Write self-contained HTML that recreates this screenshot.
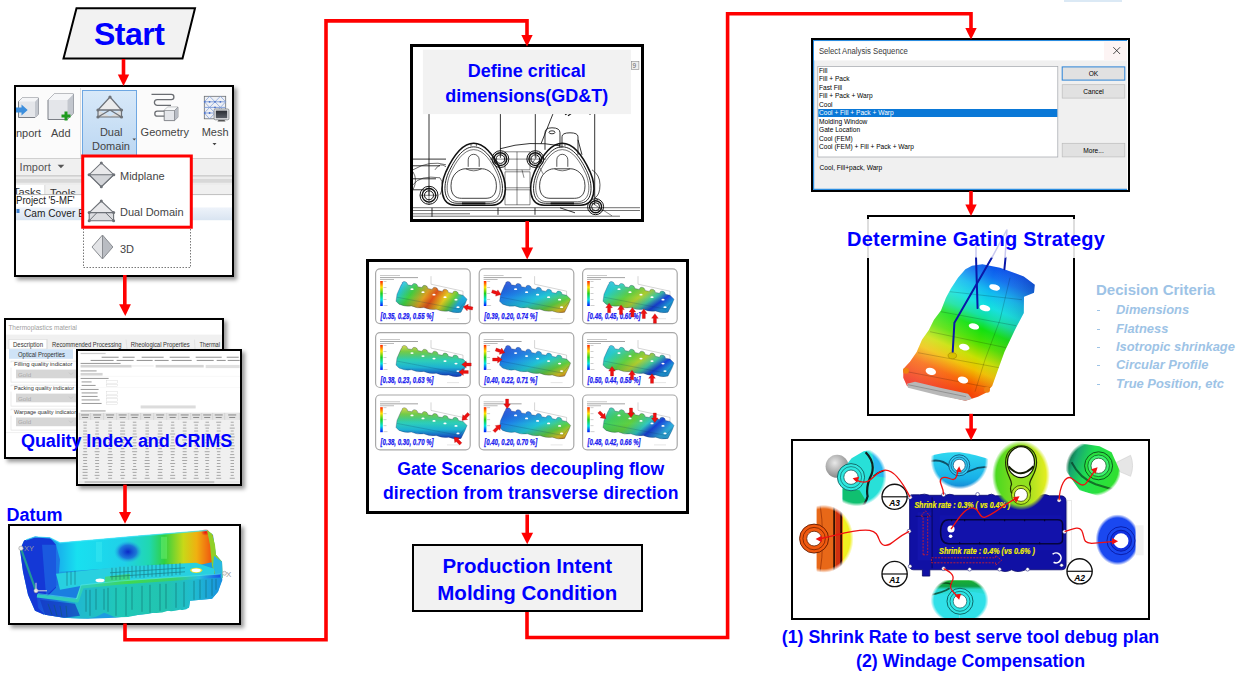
<!DOCTYPE html>
<html><head><meta charset="utf-8">
<style>
*{margin:0;padding:0;box-sizing:border-box}
html,body{width:1244px;height:682px;background:#fff;overflow:hidden;font-family:"Liberation Sans",sans-serif}
.a{position:absolute}
.box{position:absolute;border:2px solid #000;background:#fff}
.sh{box-shadow:3px 3px 4px rgba(0,0,0,.4)}
.bt{position:absolute;color:#0000ff;font-weight:bold;white-space:nowrap;line-height:1}
</style></head><body>

<div class="a" style="left:1064px;top:0;width:57.6px;height:1.5px;background:#dbe9f5"></div>
<!-- lines layer -->
<svg class="a" style="left:0;top:0" width="1244" height="682" viewBox="0 0 1244 682">
<!-- start parallelogram -->
<path d="M76.5 8.3 H195 L182.5 58.4 H63.5 Z" fill="#f2f2f2" stroke="#000" stroke-width="2"/>
</svg>

<div class="bt" style="left:94px;top:17.5px;font-size:32px;letter-spacing:-0.5px">Start</div>

<!-- BOX 1 ribbon -->
<div class="box sh" style="left:14px;top:85px;width:220px;height:192px;overflow:hidden">
<svg class="a" style="left:0;top:0" width="216" height="188" viewBox="16 87 216 188" font-family="Liberation Sans" font-size="11">
<rect x="16" y="87" width="216" height="71" fill="#fbfbfb"/>
<line x1="80.5" y1="88" x2="80.5" y2="158" stroke="#dcdcdc"/>
<!-- import cube -->
<path d="M18.5 101.5 L22 98 H38.5 V114 L35 117.5 H18.5 Z" fill="#e4e6ea" stroke="#7b7f86" stroke-width="1"/>
<path d="M35 101.5 L38.5 98 V114 L35 117.5 Z" fill="#c3c7ce"/>
<path d="M18.5 101.5 L22 98 H38.5 L35 101.5 Z" fill="#f4f5f7"/>
<path d="M16 107.5 H21.5 V104.6 L27.7 110 L21.5 115.5 V112.5 H16 Z" fill="#3d8fdd"/>
<!-- add cube -->
<path d="M48 100 L54 94 H73.5 V113 L67.5 119.5 H48 Z" fill="#e4e6ea" stroke="#7b7f86" stroke-width="1"/>
<path d="M67.5 100 L73.5 94 V113 L67.5 119.5 Z" fill="#c3c7ce"/>
<path d="M48 100 L54 94 H73.5 L67.5 100 Z" fill="#f5f6f8"/>
<path d="M64.5 111.5 H67.5 V114.5 H70.5 V117.5 H67.5 V120.5 H64.5 V117.5 H61.5 V114.5 H64.5 Z" fill="#1e9a1e"/>
<text x="16" y="137" fill="#444">nport</text>
<text x="51" y="137" fill="#444">Add</text>
<!-- dual domain button -->
<defs><linearGradient id="ddb" x1="0" y1="0" x2="0" y2="1"><stop offset="0" stop-color="#d8e9f9"/><stop offset="1" stop-color="#bcd7f2"/></linearGradient></defs><rect x="82.5" y="90.5" width="54" height="66" fill="url(#ddb)" stroke="#6ea7e2"/>
<path d="M110 97 L98 110 H121.5 Z" fill="#ececec" stroke="#6e7278" stroke-width="1.2"/>
<path d="M98 110 L110 116.5 L121.5 110 V117 H98 Z" fill="#ddd"/>
<path d="M98 110 H121.5 V117 H98 Z M98 117 L110 110 L121.5 117" fill="none" stroke="#6e7278" stroke-width="1.2"/>
<g fill="#6e7278"><circle cx="110" cy="97" r="1.6"/><circle cx="98" cy="110" r="1.6"/><circle cx="121.5" cy="110" r="1.6"/><circle cx="98" cy="117" r="1.6"/><circle cx="121.5" cy="117" r="1.6"/></g>
<text x="111.2" y="135.7" fill="#444" text-anchor="middle">Dual</text>
<text x="111" y="150.3" fill="#444" text-anchor="middle">Domain</text>
<path d="M132.5 138.5 H136 L134.25 140.5 Z" fill="#444"/>
<!-- geometry icon -->
<path d="M151.5 94.4 H171.3 A2.6 2.6 0 0 1 171.3 99.6 H157.3 A2.9 2.9 0 0 0 157.3 105.4 H171 M165 111.2 H157.3 A2.5 2.5 0 0 0 157.3 116.2 H165" fill="none" stroke="#6a6d72" stroke-width="1.3"/>
<path d="M164.2 110.5 L167.5 107.2 H177.9 V117.3 L174.5 120.6 H164.2 Z" fill="#e4e6ea" stroke="#6a6d72" stroke-width="0.8"/>
<path d="M174.5 110.5 L177.9 107.2 V117.3 L174.5 120.6 Z" fill="#b8bcc4"/>
<path d="M164.2 110.5 L167.5 107.2 H177.9 L174.5 110.5 Z" fill="#f6f7f8"/>
<path d="M164.2 110.5 H174.5 V120.6 M174.5 110.5 L177.9 107.2" fill="none" stroke="#6a6d72" stroke-width="0.6"/>
<text x="140.6" y="135.7" fill="#444">Geometry</text>
<!-- mesh icon -->
<rect x="204.3" y="96.3" width="21.4" height="22.5" fill="#eef0f4" stroke="#6a6d72" stroke-width="0.8"/>
<path d="M204.3 101.8 H225.7 M204.3 107.4 H225.7 M204.3 113 H225.7" stroke="#7a9ad8" stroke-width="0.9"/>
<path d="M204.3 101.8 L209.6 96.3 L215 101.8 L220.4 96.3 L225.7 101.8 L220.4 107.4 L215 101.8 L209.6 107.4 Z M209.6 107.4 L215 113 L220.4 107.4 M204.3 113 L209.6 107.4 M204.3 113 L209.6 118.8 L215 113 M225.7 113 L220.4 107.4" fill="none" stroke="#7a9ad8" stroke-width="0.7"/>
<g fill="#4a70c8"><circle cx="209.6" cy="101.8" r="0.9"/><circle cx="215" cy="101.8" r="0.9"/><circle cx="220.4" cy="101.8" r="0.9"/><circle cx="215" cy="107.4" r="0.9"/><circle cx="209.6" cy="113" r="0.9"/><circle cx="204.8" cy="101.8" r="0.9"/><circle cx="204.8" cy="113" r="0.9"/></g>
<rect x="214.1" y="109" width="14.8" height="10.8" rx="1.2" fill="#e8e9eb" stroke="#7a7d82" stroke-width="0.8"/>
<defs><linearGradient id="scr" x1="0" y1="0" x2="0" y2="1"><stop offset="0" stop-color="#2a2d33"/><stop offset="1" stop-color="#5a5e66"/></linearGradient></defs>
<rect x="215.8" y="110.6" width="11.4" height="7.6" fill="url(#scr)"/>
<path d="M218.5 120 H224.5 L225.5 121.6 H217.5 Z" fill="#555"/>
<text x="201.7" y="135.7" fill="#444">Mesh</text>
<path d="M212.5 143 H216.5 L214.5 145.3 Z" fill="#444"/>
<!-- import row -->
<rect x="16" y="158" width="216" height="16.5" fill="#f0f0f0"/>
<line x1="16" y1="158.5" x2="232" y2="158.5" stroke="#d0d0d0"/>
<text x="19.6" y="170.9" fill="#555">Import</text>
<path d="M57.6 164.8 H64.3 L60.95 168.3 Z" fill="#555"/>
<rect x="16" y="174.5" width="216" height="10.5" fill="#ececec"/>
<rect x="16" y="175" width="216" height="1.6" fill="#d0d0d0"/>
<rect x="16" y="179" width="216" height="3.7" fill="#d8d8d8"/>
<rect x="16" y="184.8" width="216" height="9.7" fill="#f0f0f0"/>
<rect x="16" y="184.8" width="28.8" height="9.7" fill="#fff"/>
<line x1="44.8" y1="185" x2="44.8" y2="194.5" stroke="#dadada"/>
<svg x="16" y="184.8" width="216" height="9.7" viewBox="16 184.8 216 9.7" overflow="hidden"><text x="13" y="195.6" fill="#333">Tasks</text><text x="50" y="196.5" fill="#333">Tools</text></svg>
<line x1="16" y1="194.8" x2="232" y2="194.8" stroke="#9a9a9a" stroke-width="0.8"/>
<rect x="16" y="195.2" width="216" height="80" fill="#fff"/>
<text x="16" y="204" fill="#222" textLength="58.6" lengthAdjust="spacingAndGlyphs">Project '5-MF'</text>
<defs><linearGradient id="cc" x1="0" y1="0" x2="0" y2="1"><stop offset="0" stop-color="#eef3fa"/><stop offset="1" stop-color="#d9e4f1"/></linearGradient></defs>
<rect x="16" y="207.4" width="216" height="12.8" fill="url(#cc)"/>
<rect x="16.5" y="209" width="3" height="4" fill="#3b7fd0"/>
<text x="24" y="216.6" fill="#222" textLength="61" lengthAdjust="spacingAndGlyphs">Cam Cover E</text>
<!-- dropdown -->
<rect x="83.5" y="156" width="107" height="111.5" fill="#fff" stroke="#555" stroke-width="0.8" stroke-dasharray="1.5,1.5"/>
<rect x="82.7" y="156" width="108.6" height="71.2" fill="none" stroke="#ff0000" stroke-width="3"/>
<!-- midplane icon -->
<path d="M101.3 162.9 L113.8 174.7 L101.3 186.7 L89.1 174.7 Z" fill="#e9e9eb" stroke="#6e7278" stroke-width="1.1"/>
<path d="M89.1 174.7 H113.8 L101.3 186.7 Z" fill="#d3d5d9" stroke="#6e7278" stroke-width="1.1"/>
<g fill="#6e7278"><circle cx="101.3" cy="162.9" r="1.5"/><circle cx="101.3" cy="186.7" r="1.5"/><circle cx="89.1" cy="174.7" r="1.5"/><circle cx="113.8" cy="174.7" r="1.5"/></g>
<text x="120" y="179.5" fill="#444">Midplane</text>
<!-- dual domain icon -->
<path d="M101.3 201 L89.2 212.6 H113.6 Z" fill="#e9e9eb" stroke="#6e7278" stroke-width="1.1"/>
<path d="M89.2 212.6 H113.6 V220.7 H89.2 Z" fill="#dcdde0" stroke="#6e7278" stroke-width="1.1"/>
<path d="M89.2 220.7 L97 212.6 M113.6 220.7 L105.5 212.6" stroke="#6e7278" stroke-width="1"/>
<g fill="#6e7278"><circle cx="101.3" cy="201" r="1.5"/><circle cx="89.2" cy="212.6" r="1.5"/><circle cx="113.6" cy="212.6" r="1.5"/><circle cx="89.2" cy="220.7" r="1.5"/><circle cx="113.6" cy="220.7" r="1.5"/></g>
<text x="120" y="216.2" fill="#444">Dual Domain</text>
<!-- 3d icon -->
<path d="M102.5 235 L92 247 L102.5 259 Z" fill="#e2e3e6" stroke="#8a8d92" stroke-width="1"/>
<path d="M102.5 235 L112.9 247 L102.5 259 Z" fill="#b9bcc2" stroke="#8a8d92" stroke-width="1"/>
<text x="120" y="252.9" fill="#444">3D</text>
</svg>
</div>

<!-- BOX 2 quality -->
<div class="box sh" style="left:4px;top:318.4px;width:220px;height:140.6px;overflow:hidden">
<svg class="a" style="left:0;top:0" width="216" height="137" viewBox="6 320.4 216 137" font-family="Liberation Sans" font-size="6">
<rect x="6" y="320" width="216" height="140" fill="#fff"/>
<text x="8.4" y="330.3" fill="#a0a0a0" font-size="7.6" textLength="68.6" lengthAdjust="spacingAndGlyphs">Thermoplastics material</text>
<rect x="6" y="335" width="216" height="14.5" fill="#f0f0f0"/>
<rect x="9" y="339.8" width="38" height="9.6" fill="#fff" stroke="#d8d8d8" stroke-width="0.6"/>
<text x="13" y="347" fill="#333" font-size="6.8" textLength="30" lengthAdjust="spacingAndGlyphs">Description</text>
<line x1="47" y1="340" x2="47" y2="349.4" stroke="#d8d8d8" stroke-width="0.6"/>
<text x="52" y="347" fill="#333" font-size="6.8" textLength="69.5" lengthAdjust="spacingAndGlyphs">Recommended Processing</text>
<line x1="126" y1="340" x2="127" y2="349.4" stroke="#d8d8d8" stroke-width="0.6"/>
<text x="130.8" y="347" fill="#333" font-size="6.8" textLength="59" lengthAdjust="spacingAndGlyphs">Rheological Properties</text>
<line x1="194.5" y1="340" x2="195" y2="349.4" stroke="#d8d8d8" stroke-width="0.6"/>
<text x="199.4" y="347" fill="#333" font-size="6.8" textLength="20.6" lengthAdjust="spacingAndGlyphs">Thermal</text>
<rect x="9" y="349.6" width="64" height="9.6" fill="#cfe3f7"/>
<text x="18" y="357" fill="#333" font-size="6.8" textLength="47" lengthAdjust="spacingAndGlyphs">Optical Properties</text>
<rect x="11" y="361.5" width="90" height="21" fill="none" stroke="#dcdcdc" stroke-width="0.6"/>
<rect x="11" y="385.5" width="90" height="21" fill="none" stroke="#dcdcdc" stroke-width="0.6"/>
<rect x="11" y="409.5" width="90" height="21" fill="none" stroke="#dcdcdc" stroke-width="0.6"/>
<rect x="8" y="363" width="70" height="5" fill="#fff"/>
<rect x="8" y="387" width="70" height="5" fill="#fff"/>
<rect x="8" y="411" width="70" height="5" fill="#fff"/>
<text x="14" y="366.6" fill="#333" font-size="6.2" textLength="58.5" lengthAdjust="spacingAndGlyphs">Filling quality indicator</text>
<text x="14" y="390.8" fill="#333" font-size="6.2" textLength="60" lengthAdjust="spacingAndGlyphs">Packing quality indicator</text>
<text x="14" y="414.3" fill="#333" font-size="6.2" textLength="62" lengthAdjust="spacingAndGlyphs">Warpage quality indicator</text>
<rect x="16" y="370" width="80" height="8.7" fill="#d6d6d6"/>
<rect x="16" y="394" width="80" height="8.7" fill="#d6d6d6"/>
<rect x="16" y="417.9" width="80" height="8.7" fill="#d6d6d6"/>
<text x="18" y="377" fill="#a8a8a8" font-size="6.2">Gold</text>
<text x="18" y="401" fill="#a8a8a8" font-size="6.2">Gold</text>
<text x="18" y="424.9" fill="#a8a8a8" font-size="6.2">Gold</text>
<path d="M69 373 L71 375 L73 373 M69 397 L71 399 L73 397 M69 421 L71 423 L73 421" stroke="#bbb" stroke-width="0.6" fill="none"/>
<line x1="6" y1="433" x2="222" y2="433" stroke="#e4e4e4" stroke-width="0.6"/>
</svg></div>
<div class="box sh" style="left:75.7px;top:348.6px;width:166.3px;height:137.4px;overflow:hidden">
<svg class="a" style="left:0;top:0" width="163" height="133" viewBox="77.7 350.6 162.3 132.9" font-family="Liberation Sans" font-size="3">
<rect x="77" y="350" width="165" height="136" fill="#fff"/>
<rect x="80" y="352.5" width="25" height="1.2" fill="#ccc"/>
<g fill="#999">
<rect x="101" y="356.3" width="17" height="1.1"/><rect x="122" y="356.3" width="12" height="1.1"/><rect x="141" y="356.3" width="22" height="1.1"/><rect x="169" y="356.3" width="20" height="1.1"/><rect x="195" y="356.3" width="26" height="1.1"/><rect x="226" y="356.3" width="12" height="1.1"/>
<rect x="90" y="359.5" width="23" height="1.1"/><rect x="116" y="359.5" width="17" height="1.1"/><rect x="136" y="359.5" width="16" height="1.1"/><rect x="154" y="359.5" width="14" height="1.1"/><rect x="171" y="359.5" width="20" height="1.1"/><rect x="196" y="359.5" width="17" height="1.1"/><rect x="216" y="359.5" width="9" height="1.1"/><rect x="227" y="359.5" width="12" height="1.1"/>
<rect x="80" y="362.5" width="40" height="1"/>
<rect x="80" y="370" width="16" height="1"/>
<rect x="80" y="377.5" width="28" height="1"/>
<rect x="81" y="381" width="10" height="1"/><rect x="81" y="384.5" width="14" height="1"/>
<rect x="80" y="388.5" width="18" height="1"/>
<rect x="81" y="392" width="16" height="1"/><rect x="81" y="395.5" width="16" height="1"/><rect x="81" y="399" width="18" height="1"/><rect x="81" y="402.5" width="20" height="1"/>
<rect x="80" y="410" width="25" height="1"/>
</g>
<rect x="80" y="364.5" width="51" height="2.6" fill="#d4d4d4"/>
<rect x="131" y="364.8" width="22" height="1.4" fill="#eee"/>
<rect x="155" y="364.5" width="48" height="2.6" fill="#d4d4d4"/>
<rect x="205" y="364.5" width="34" height="3.2" fill="#e0e0e0"/>
<rect x="80" y="372.5" width="22" height="2.6" fill="#d4d4d4"/>
<line x1="78" y1="376" x2="240" y2="376" stroke="#eee" stroke-width="0.4"/>
<line x1="78" y1="387" x2="240" y2="387" stroke="#eee" stroke-width="0.4"/>
<g fill="#fff" stroke="#c8c8c8" stroke-width="0.3">
<rect x="106" y="380.3" width="11" height="2.4"/><rect x="106" y="383.8" width="11" height="2.4"/>
<rect x="106" y="391.3" width="11" height="2.4"/><rect x="106" y="394.8" width="11" height="2.4"/><rect x="106" y="398.3" width="11" height="2.4"/><rect x="106" y="401.8" width="11" height="2.4"/>
</g>
<rect x="140" y="405" width="55" height="3" fill="#dcdcdc"/>
<rect x="78" y="412" width="162" height="68" fill="#f0f0f0"/>
<rect x="78" y="412.5" width="162" height="7" fill="#e4e4e4"/>
<line x1="79" y1="412.5" x2="79" y2="419.5" stroke="#c0c0c0" stroke-width="0.4"/>
<line x1="90" y1="412.5" x2="90" y2="419.5" stroke="#c0c0c0" stroke-width="0.4"/>
<line x1="103" y1="412.5" x2="103" y2="419.5" stroke="#c0c0c0" stroke-width="0.4"/>
<line x1="116" y1="412.5" x2="116" y2="419.5" stroke="#c0c0c0" stroke-width="0.4"/>
<line x1="128" y1="412.5" x2="128" y2="419.5" stroke="#c0c0c0" stroke-width="0.4"/>
<line x1="140" y1="412.5" x2="140" y2="419.5" stroke="#c0c0c0" stroke-width="0.4"/>
<line x1="153" y1="412.5" x2="153" y2="419.5" stroke="#c0c0c0" stroke-width="0.4"/>
<line x1="166" y1="412.5" x2="166" y2="419.5" stroke="#c0c0c0" stroke-width="0.4"/>
<line x1="178" y1="412.5" x2="178" y2="419.5" stroke="#c0c0c0" stroke-width="0.4"/>
<line x1="190" y1="412.5" x2="190" y2="419.5" stroke="#c0c0c0" stroke-width="0.4"/>
<line x1="201" y1="412.5" x2="201" y2="419.5" stroke="#c0c0c0" stroke-width="0.4"/>
<line x1="212" y1="412.5" x2="212" y2="419.5" stroke="#c0c0c0" stroke-width="0.4"/>
<line x1="224" y1="412.5" x2="224" y2="419.5" stroke="#c0c0c0" stroke-width="0.4"/>
<line x1="239" y1="412.5" x2="239" y2="419.5" stroke="#c0c0c0" stroke-width="0.4"/>
<rect x="82.5" y="421.3" width="4" height="0.9" fill="#a0a0a0"/>
<rect x="94.5" y="421.3" width="4" height="0.9" fill="#a0a0a0"/>
<rect x="108.0" y="421.3" width="3" height="0.9" fill="#a0a0a0"/>
<rect x="119.5" y="421.3" width="5" height="0.9" fill="#a0a0a0"/>
<rect x="132.2" y="421.3" width="3.5" height="0.9" fill="#a0a0a0"/>
<rect x="145.0" y="421.3" width="3" height="0.9" fill="#a0a0a0"/>
<rect x="157.8" y="421.3" width="3.5" height="0.9" fill="#a0a0a0"/>
<rect x="170.5" y="421.3" width="3" height="0.9" fill="#a0a0a0"/>
<rect x="182.0" y="421.3" width="4" height="0.9" fill="#a0a0a0"/>
<rect x="193.0" y="421.3" width="5" height="0.9" fill="#a0a0a0"/>
<rect x="204.8" y="421.3" width="3.5" height="0.9" fill="#a0a0a0"/>
<rect x="215.5" y="421.3" width="5" height="0.9" fill="#a0a0a0"/>
<rect x="230.0" y="421.3" width="3" height="0.9" fill="#a0a0a0"/>
<rect x="82.8" y="424.2" width="3.5" height="0.9" fill="#a0a0a0"/>
<rect x="95.0" y="424.2" width="3" height="0.9" fill="#a0a0a0"/>
<rect x="107.8" y="424.2" width="3.5" height="0.9" fill="#a0a0a0"/>
<rect x="119.5" y="424.2" width="5" height="0.9" fill="#a0a0a0"/>
<rect x="132.0" y="424.2" width="4" height="0.9" fill="#a0a0a0"/>
<rect x="144.8" y="424.2" width="3.5" height="0.9" fill="#a0a0a0"/>
<rect x="157.0" y="424.2" width="5" height="0.9" fill="#a0a0a0"/>
<rect x="170.2" y="424.2" width="3.5" height="0.9" fill="#a0a0a0"/>
<rect x="182.5" y="424.2" width="3" height="0.9" fill="#a0a0a0"/>
<rect x="193.8" y="424.2" width="3.5" height="0.9" fill="#a0a0a0"/>
<rect x="204.0" y="424.2" width="5" height="0.9" fill="#a0a0a0"/>
<rect x="216.2" y="424.2" width="3.5" height="0.9" fill="#a0a0a0"/>
<rect x="229.8" y="424.2" width="3.5" height="0.9" fill="#a0a0a0"/>
<rect x="83.0" y="427.2" width="3" height="0.9" fill="#a0a0a0"/>
<rect x="95.0" y="427.2" width="3" height="0.9" fill="#a0a0a0"/>
<rect x="107.8" y="427.2" width="3.5" height="0.9" fill="#a0a0a0"/>
<rect x="120.2" y="427.2" width="3.5" height="0.9" fill="#a0a0a0"/>
<rect x="132.2" y="427.2" width="3.5" height="0.9" fill="#a0a0a0"/>
<rect x="144.8" y="427.2" width="3.5" height="0.9" fill="#a0a0a0"/>
<rect x="157.5" y="427.2" width="4" height="0.9" fill="#a0a0a0"/>
<rect x="170.0" y="427.2" width="4" height="0.9" fill="#a0a0a0"/>
<rect x="182.2" y="427.2" width="3.5" height="0.9" fill="#a0a0a0"/>
<rect x="193.8" y="427.2" width="3.5" height="0.9" fill="#a0a0a0"/>
<rect x="204.8" y="427.2" width="3.5" height="0.9" fill="#a0a0a0"/>
<rect x="216.2" y="427.2" width="3.5" height="0.9" fill="#a0a0a0"/>
<rect x="229.0" y="427.2" width="5" height="0.9" fill="#a0a0a0"/>
<rect x="82.5" y="430.1" width="4" height="0.9" fill="#a0a0a0"/>
<rect x="95.0" y="430.1" width="3" height="0.9" fill="#a0a0a0"/>
<rect x="107.5" y="430.1" width="4" height="0.9" fill="#a0a0a0"/>
<rect x="119.5" y="430.1" width="5" height="0.9" fill="#a0a0a0"/>
<rect x="132.2" y="430.1" width="3.5" height="0.9" fill="#a0a0a0"/>
<rect x="144.8" y="430.1" width="3.5" height="0.9" fill="#a0a0a0"/>
<rect x="157.5" y="430.1" width="4" height="0.9" fill="#a0a0a0"/>
<rect x="170.5" y="430.1" width="3" height="0.9" fill="#a0a0a0"/>
<rect x="182.0" y="430.1" width="4" height="0.9" fill="#a0a0a0"/>
<rect x="193.5" y="430.1" width="4" height="0.9" fill="#a0a0a0"/>
<rect x="205.0" y="430.1" width="3" height="0.9" fill="#a0a0a0"/>
<rect x="216.0" y="430.1" width="4" height="0.9" fill="#a0a0a0"/>
<rect x="230.0" y="430.1" width="3" height="0.9" fill="#a0a0a0"/>
<rect x="82.5" y="433.1" width="4" height="0.9" fill="#a0a0a0"/>
<rect x="94.5" y="433.1" width="4" height="0.9" fill="#a0a0a0"/>
<rect x="107.5" y="433.1" width="4" height="0.9" fill="#a0a0a0"/>
<rect x="119.5" y="433.1" width="5" height="0.9" fill="#a0a0a0"/>
<rect x="132.0" y="433.1" width="4" height="0.9" fill="#a0a0a0"/>
<rect x="144.8" y="433.1" width="3.5" height="0.9" fill="#a0a0a0"/>
<rect x="157.0" y="433.1" width="5" height="0.9" fill="#a0a0a0"/>
<rect x="169.5" y="433.1" width="5" height="0.9" fill="#a0a0a0"/>
<rect x="182.2" y="433.1" width="3.5" height="0.9" fill="#a0a0a0"/>
<rect x="194.0" y="433.1" width="3" height="0.9" fill="#a0a0a0"/>
<rect x="204.5" y="433.1" width="4" height="0.9" fill="#a0a0a0"/>
<rect x="216.5" y="433.1" width="3" height="0.9" fill="#a0a0a0"/>
<rect x="229.5" y="433.1" width="4" height="0.9" fill="#a0a0a0"/>
<rect x="82.0" y="436.0" width="5" height="0.9" fill="#a0a0a0"/>
<rect x="95.0" y="436.0" width="3" height="0.9" fill="#a0a0a0"/>
<rect x="107.0" y="436.0" width="5" height="0.9" fill="#a0a0a0"/>
<rect x="120.0" y="436.0" width="4" height="0.9" fill="#a0a0a0"/>
<rect x="131.5" y="436.0" width="5" height="0.9" fill="#a0a0a0"/>
<rect x="145.0" y="436.0" width="3" height="0.9" fill="#a0a0a0"/>
<rect x="157.0" y="436.0" width="5" height="0.9" fill="#a0a0a0"/>
<rect x="170.5" y="436.0" width="3" height="0.9" fill="#a0a0a0"/>
<rect x="182.2" y="436.0" width="3.5" height="0.9" fill="#a0a0a0"/>
<rect x="193.8" y="436.0" width="3.5" height="0.9" fill="#a0a0a0"/>
<rect x="205.0" y="436.0" width="3" height="0.9" fill="#a0a0a0"/>
<rect x="216.2" y="436.0" width="3.5" height="0.9" fill="#a0a0a0"/>
<rect x="229.0" y="436.0" width="5" height="0.9" fill="#a0a0a0"/>
<rect x="82.5" y="439.0" width="4" height="0.9" fill="#a0a0a0"/>
<rect x="94.5" y="439.0" width="4" height="0.9" fill="#a0a0a0"/>
<rect x="107.5" y="439.0" width="4" height="0.9" fill="#a0a0a0"/>
<rect x="119.5" y="439.0" width="5" height="0.9" fill="#a0a0a0"/>
<rect x="132.5" y="439.0" width="3" height="0.9" fill="#a0a0a0"/>
<rect x="144.5" y="439.0" width="4" height="0.9" fill="#a0a0a0"/>
<rect x="157.5" y="439.0" width="4" height="0.9" fill="#a0a0a0"/>
<rect x="170.5" y="439.0" width="3" height="0.9" fill="#a0a0a0"/>
<rect x="181.5" y="439.0" width="5" height="0.9" fill="#a0a0a0"/>
<rect x="194.0" y="439.0" width="3" height="0.9" fill="#a0a0a0"/>
<rect x="204.8" y="439.0" width="3.5" height="0.9" fill="#a0a0a0"/>
<rect x="216.0" y="439.0" width="4" height="0.9" fill="#a0a0a0"/>
<rect x="229.5" y="439.0" width="4" height="0.9" fill="#a0a0a0"/>
<rect x="82.8" y="441.9" width="3.5" height="0.9" fill="#a0a0a0"/>
<rect x="94.5" y="441.9" width="4" height="0.9" fill="#a0a0a0"/>
<rect x="107.5" y="441.9" width="4" height="0.9" fill="#a0a0a0"/>
<rect x="120.5" y="441.9" width="3" height="0.9" fill="#a0a0a0"/>
<rect x="132.0" y="441.9" width="4" height="0.9" fill="#a0a0a0"/>
<rect x="144.5" y="441.9" width="4" height="0.9" fill="#a0a0a0"/>
<rect x="157.5" y="441.9" width="4" height="0.9" fill="#a0a0a0"/>
<rect x="170.2" y="441.9" width="3.5" height="0.9" fill="#a0a0a0"/>
<rect x="182.5" y="441.9" width="3" height="0.9" fill="#a0a0a0"/>
<rect x="193.8" y="441.9" width="3.5" height="0.9" fill="#a0a0a0"/>
<rect x="204.5" y="441.9" width="4" height="0.9" fill="#a0a0a0"/>
<rect x="215.5" y="441.9" width="5" height="0.9" fill="#a0a0a0"/>
<rect x="229.8" y="441.9" width="3.5" height="0.9" fill="#a0a0a0"/>
<rect x="83.0" y="444.9" width="3" height="0.9" fill="#a0a0a0"/>
<rect x="95.0" y="444.9" width="3" height="0.9" fill="#a0a0a0"/>
<rect x="107.0" y="444.9" width="5" height="0.9" fill="#a0a0a0"/>
<rect x="120.5" y="444.9" width="3" height="0.9" fill="#a0a0a0"/>
<rect x="132.2" y="444.9" width="3.5" height="0.9" fill="#a0a0a0"/>
<rect x="144.5" y="444.9" width="4" height="0.9" fill="#a0a0a0"/>
<rect x="157.5" y="444.9" width="4" height="0.9" fill="#a0a0a0"/>
<rect x="169.5" y="444.9" width="5" height="0.9" fill="#a0a0a0"/>
<rect x="181.5" y="444.9" width="5" height="0.9" fill="#a0a0a0"/>
<rect x="193.8" y="444.9" width="3.5" height="0.9" fill="#a0a0a0"/>
<rect x="205.0" y="444.9" width="3" height="0.9" fill="#a0a0a0"/>
<rect x="216.5" y="444.9" width="3" height="0.9" fill="#a0a0a0"/>
<rect x="229.0" y="444.9" width="5" height="0.9" fill="#a0a0a0"/>
<rect x="82.5" y="447.8" width="4" height="0.9" fill="#a0a0a0"/>
<rect x="94.8" y="447.8" width="3.5" height="0.9" fill="#a0a0a0"/>
<rect x="107.8" y="447.8" width="3.5" height="0.9" fill="#a0a0a0"/>
<rect x="120.2" y="447.8" width="3.5" height="0.9" fill="#a0a0a0"/>
<rect x="131.5" y="447.8" width="5" height="0.9" fill="#a0a0a0"/>
<rect x="145.0" y="447.8" width="3" height="0.9" fill="#a0a0a0"/>
<rect x="157.8" y="447.8" width="3.5" height="0.9" fill="#a0a0a0"/>
<rect x="169.5" y="447.8" width="5" height="0.9" fill="#a0a0a0"/>
<rect x="182.0" y="447.8" width="4" height="0.9" fill="#a0a0a0"/>
<rect x="193.8" y="447.8" width="3.5" height="0.9" fill="#a0a0a0"/>
<rect x="205.0" y="447.8" width="3" height="0.9" fill="#a0a0a0"/>
<rect x="215.5" y="447.8" width="5" height="0.9" fill="#a0a0a0"/>
<rect x="229.5" y="447.8" width="4" height="0.9" fill="#a0a0a0"/>
<rect x="82.8" y="450.8" width="3.5" height="0.9" fill="#a0a0a0"/>
<rect x="94.0" y="450.8" width="5" height="0.9" fill="#a0a0a0"/>
<rect x="107.8" y="450.8" width="3.5" height="0.9" fill="#a0a0a0"/>
<rect x="119.5" y="450.8" width="5" height="0.9" fill="#a0a0a0"/>
<rect x="131.5" y="450.8" width="5" height="0.9" fill="#a0a0a0"/>
<rect x="144.5" y="450.8" width="4" height="0.9" fill="#a0a0a0"/>
<rect x="157.0" y="450.8" width="5" height="0.9" fill="#a0a0a0"/>
<rect x="170.0" y="450.8" width="4" height="0.9" fill="#a0a0a0"/>
<rect x="182.0" y="450.8" width="4" height="0.9" fill="#a0a0a0"/>
<rect x="193.0" y="450.8" width="5" height="0.9" fill="#a0a0a0"/>
<rect x="204.0" y="450.8" width="5" height="0.9" fill="#a0a0a0"/>
<rect x="216.2" y="450.8" width="3.5" height="0.9" fill="#a0a0a0"/>
<rect x="230.0" y="450.8" width="3" height="0.9" fill="#a0a0a0"/>
<rect x="82.0" y="453.7" width="5" height="0.9" fill="#a0a0a0"/>
<rect x="94.8" y="453.7" width="3.5" height="0.9" fill="#a0a0a0"/>
<rect x="107.0" y="453.7" width="5" height="0.9" fill="#a0a0a0"/>
<rect x="120.0" y="453.7" width="4" height="0.9" fill="#a0a0a0"/>
<rect x="132.2" y="453.7" width="3.5" height="0.9" fill="#a0a0a0"/>
<rect x="145.0" y="453.7" width="3" height="0.9" fill="#a0a0a0"/>
<rect x="157.0" y="453.7" width="5" height="0.9" fill="#a0a0a0"/>
<rect x="170.0" y="453.7" width="4" height="0.9" fill="#a0a0a0"/>
<rect x="182.0" y="453.7" width="4" height="0.9" fill="#a0a0a0"/>
<rect x="194.0" y="453.7" width="3" height="0.9" fill="#a0a0a0"/>
<rect x="204.5" y="453.7" width="4" height="0.9" fill="#a0a0a0"/>
<rect x="216.5" y="453.7" width="3" height="0.9" fill="#a0a0a0"/>
<rect x="229.5" y="453.7" width="4" height="0.9" fill="#a0a0a0"/>
<rect x="82.5" y="456.7" width="4" height="0.9" fill="#a0a0a0"/>
<rect x="94.5" y="456.7" width="4" height="0.9" fill="#a0a0a0"/>
<rect x="107.0" y="456.7" width="5" height="0.9" fill="#a0a0a0"/>
<rect x="120.0" y="456.7" width="4" height="0.9" fill="#a0a0a0"/>
<rect x="132.0" y="456.7" width="4" height="0.9" fill="#a0a0a0"/>
<rect x="144.5" y="456.7" width="4" height="0.9" fill="#a0a0a0"/>
<rect x="157.8" y="456.7" width="3.5" height="0.9" fill="#a0a0a0"/>
<rect x="170.5" y="456.7" width="3" height="0.9" fill="#a0a0a0"/>
<rect x="181.5" y="456.7" width="5" height="0.9" fill="#a0a0a0"/>
<rect x="193.5" y="456.7" width="4" height="0.9" fill="#a0a0a0"/>
<rect x="204.5" y="456.7" width="4" height="0.9" fill="#a0a0a0"/>
<rect x="216.0" y="456.7" width="4" height="0.9" fill="#a0a0a0"/>
<rect x="229.0" y="456.7" width="5" height="0.9" fill="#a0a0a0"/>
<rect x="82.5" y="459.6" width="4" height="0.9" fill="#a0a0a0"/>
<rect x="94.5" y="459.6" width="4" height="0.9" fill="#a0a0a0"/>
<rect x="107.5" y="459.6" width="4" height="0.9" fill="#a0a0a0"/>
<rect x="120.0" y="459.6" width="4" height="0.9" fill="#a0a0a0"/>
<rect x="132.0" y="459.6" width="4" height="0.9" fill="#a0a0a0"/>
<rect x="144.0" y="459.6" width="5" height="0.9" fill="#a0a0a0"/>
<rect x="157.5" y="459.6" width="4" height="0.9" fill="#a0a0a0"/>
<rect x="170.2" y="459.6" width="3.5" height="0.9" fill="#a0a0a0"/>
<rect x="181.5" y="459.6" width="5" height="0.9" fill="#a0a0a0"/>
<rect x="193.5" y="459.6" width="4" height="0.9" fill="#a0a0a0"/>
<rect x="204.5" y="459.6" width="4" height="0.9" fill="#a0a0a0"/>
<rect x="216.2" y="459.6" width="3.5" height="0.9" fill="#a0a0a0"/>
<rect x="229.8" y="459.6" width="3.5" height="0.9" fill="#a0a0a0"/>
<rect x="82.8" y="462.6" width="3.5" height="0.9" fill="#a0a0a0"/>
<rect x="94.5" y="462.6" width="4" height="0.9" fill="#a0a0a0"/>
<rect x="107.0" y="462.6" width="5" height="0.9" fill="#a0a0a0"/>
<rect x="120.0" y="462.6" width="4" height="0.9" fill="#a0a0a0"/>
<rect x="132.5" y="462.6" width="3" height="0.9" fill="#a0a0a0"/>
<rect x="144.0" y="462.6" width="5" height="0.9" fill="#a0a0a0"/>
<rect x="157.8" y="462.6" width="3.5" height="0.9" fill="#a0a0a0"/>
<rect x="169.5" y="462.6" width="5" height="0.9" fill="#a0a0a0"/>
<rect x="182.0" y="462.6" width="4" height="0.9" fill="#a0a0a0"/>
<rect x="193.5" y="462.6" width="4" height="0.9" fill="#a0a0a0"/>
<rect x="205.0" y="462.6" width="3" height="0.9" fill="#a0a0a0"/>
<rect x="216.2" y="462.6" width="3.5" height="0.9" fill="#a0a0a0"/>
<rect x="229.8" y="462.6" width="3.5" height="0.9" fill="#a0a0a0"/>
<rect x="82.0" y="465.5" width="5" height="0.9" fill="#a0a0a0"/>
<rect x="94.8" y="465.5" width="3.5" height="0.9" fill="#a0a0a0"/>
<rect x="107.8" y="465.5" width="3.5" height="0.9" fill="#a0a0a0"/>
<rect x="120.2" y="465.5" width="3.5" height="0.9" fill="#a0a0a0"/>
<rect x="132.5" y="465.5" width="3" height="0.9" fill="#a0a0a0"/>
<rect x="144.0" y="465.5" width="5" height="0.9" fill="#a0a0a0"/>
<rect x="157.8" y="465.5" width="3.5" height="0.9" fill="#a0a0a0"/>
<rect x="170.2" y="465.5" width="3.5" height="0.9" fill="#a0a0a0"/>
<rect x="182.5" y="465.5" width="3" height="0.9" fill="#a0a0a0"/>
<rect x="193.8" y="465.5" width="3.5" height="0.9" fill="#a0a0a0"/>
<rect x="205.0" y="465.5" width="3" height="0.9" fill="#a0a0a0"/>
<rect x="216.0" y="465.5" width="4" height="0.9" fill="#a0a0a0"/>
<rect x="229.8" y="465.5" width="3.5" height="0.9" fill="#a0a0a0"/>
<rect x="82.0" y="468.5" width="5" height="0.9" fill="#a0a0a0"/>
<rect x="94.8" y="468.5" width="3.5" height="0.9" fill="#a0a0a0"/>
<rect x="108.0" y="468.5" width="3" height="0.9" fill="#a0a0a0"/>
<rect x="119.5" y="468.5" width="5" height="0.9" fill="#a0a0a0"/>
<rect x="131.5" y="468.5" width="5" height="0.9" fill="#a0a0a0"/>
<rect x="144.5" y="468.5" width="4" height="0.9" fill="#a0a0a0"/>
<rect x="157.0" y="468.5" width="5" height="0.9" fill="#a0a0a0"/>
<rect x="170.5" y="468.5" width="3" height="0.9" fill="#a0a0a0"/>
<rect x="182.2" y="468.5" width="3.5" height="0.9" fill="#a0a0a0"/>
<rect x="193.8" y="468.5" width="3.5" height="0.9" fill="#a0a0a0"/>
<rect x="204.5" y="468.5" width="4" height="0.9" fill="#a0a0a0"/>
<rect x="216.5" y="468.5" width="3" height="0.9" fill="#a0a0a0"/>
<rect x="229.5" y="468.5" width="4" height="0.9" fill="#a0a0a0"/>
<rect x="82.0" y="471.4" width="5" height="0.9" fill="#a0a0a0"/>
<rect x="94.5" y="471.4" width="4" height="0.9" fill="#a0a0a0"/>
<rect x="107.0" y="471.4" width="5" height="0.9" fill="#a0a0a0"/>
<rect x="120.5" y="471.4" width="3" height="0.9" fill="#a0a0a0"/>
<rect x="132.0" y="471.4" width="4" height="0.9" fill="#a0a0a0"/>
<rect x="145.0" y="471.4" width="3" height="0.9" fill="#a0a0a0"/>
<rect x="157.5" y="471.4" width="4" height="0.9" fill="#a0a0a0"/>
<rect x="170.5" y="471.4" width="3" height="0.9" fill="#a0a0a0"/>
<rect x="182.0" y="471.4" width="4" height="0.9" fill="#a0a0a0"/>
<rect x="193.5" y="471.4" width="4" height="0.9" fill="#a0a0a0"/>
<rect x="204.5" y="471.4" width="4" height="0.9" fill="#a0a0a0"/>
<rect x="216.0" y="471.4" width="4" height="0.9" fill="#a0a0a0"/>
<rect x="229.8" y="471.4" width="3.5" height="0.9" fill="#a0a0a0"/>
<rect x="82.0" y="474.4" width="5" height="0.9" fill="#a0a0a0"/>
<rect x="94.0" y="474.4" width="5" height="0.9" fill="#a0a0a0"/>
<rect x="107.5" y="474.4" width="4" height="0.9" fill="#a0a0a0"/>
<rect x="119.5" y="474.4" width="5" height="0.9" fill="#a0a0a0"/>
<rect x="132.2" y="474.4" width="3.5" height="0.9" fill="#a0a0a0"/>
<rect x="144.8" y="474.4" width="3.5" height="0.9" fill="#a0a0a0"/>
<rect x="157.0" y="474.4" width="5" height="0.9" fill="#a0a0a0"/>
<rect x="169.5" y="474.4" width="5" height="0.9" fill="#a0a0a0"/>
<rect x="182.2" y="474.4" width="3.5" height="0.9" fill="#a0a0a0"/>
<rect x="193.8" y="474.4" width="3.5" height="0.9" fill="#a0a0a0"/>
<rect x="205.0" y="474.4" width="3" height="0.9" fill="#a0a0a0"/>
<rect x="216.0" y="474.4" width="4" height="0.9" fill="#a0a0a0"/>
<rect x="230.0" y="474.4" width="3" height="0.9" fill="#a0a0a0"/>
<rect x="82.0" y="477.3" width="5" height="0.9" fill="#a0a0a0"/>
<rect x="95.0" y="477.3" width="3" height="0.9" fill="#a0a0a0"/>
<rect x="107.5" y="477.3" width="4" height="0.9" fill="#a0a0a0"/>
<rect x="120.2" y="477.3" width="3.5" height="0.9" fill="#a0a0a0"/>
<rect x="132.0" y="477.3" width="4" height="0.9" fill="#a0a0a0"/>
<rect x="144.0" y="477.3" width="5" height="0.9" fill="#a0a0a0"/>
<rect x="157.0" y="477.3" width="5" height="0.9" fill="#a0a0a0"/>
<rect x="169.5" y="477.3" width="5" height="0.9" fill="#a0a0a0"/>
<rect x="182.2" y="477.3" width="3.5" height="0.9" fill="#a0a0a0"/>
<rect x="193.0" y="477.3" width="5" height="0.9" fill="#a0a0a0"/>
<rect x="204.5" y="477.3" width="4" height="0.9" fill="#a0a0a0"/>
<rect x="215.5" y="477.3" width="5" height="0.9" fill="#a0a0a0"/>
<rect x="229.0" y="477.3" width="5" height="0.9" fill="#a0a0a0"/>
<rect x="80.5" y="414" width="8" height="1" fill="#888"/><rect x="81.5" y="416.5" width="6" height="1" fill="#888"/>
<rect x="92.5" y="414" width="8" height="1" fill="#888"/><rect x="93.5" y="416.5" width="6" height="1" fill="#888"/>
<rect x="105.5" y="414" width="8" height="1" fill="#888"/><rect x="106.5" y="416.5" width="6" height="1" fill="#888"/>
<rect x="118.0" y="414" width="8" height="1" fill="#888"/><rect x="119.0" y="416.5" width="6" height="1" fill="#888"/>
<rect x="130.0" y="414" width="8" height="1" fill="#888"/><rect x="131.0" y="416.5" width="6" height="1" fill="#888"/>
<rect x="142.5" y="414" width="8" height="1" fill="#888"/><rect x="143.5" y="416.5" width="6" height="1" fill="#888"/>
<rect x="155.5" y="414" width="8" height="1" fill="#888"/><rect x="156.5" y="416.5" width="6" height="1" fill="#888"/>
<rect x="168.0" y="414" width="8" height="1" fill="#888"/><rect x="169.0" y="416.5" width="6" height="1" fill="#888"/>
<rect x="180.0" y="414" width="8" height="1" fill="#888"/><rect x="181.0" y="416.5" width="6" height="1" fill="#888"/>
<rect x="191.5" y="414" width="8" height="1" fill="#888"/><rect x="192.5" y="416.5" width="6" height="1" fill="#888"/>
<rect x="202.5" y="414" width="8" height="1" fill="#888"/><rect x="203.5" y="416.5" width="6" height="1" fill="#888"/>
<rect x="214.0" y="414" width="8" height="1" fill="#888"/><rect x="215.0" y="416.5" width="6" height="1" fill="#888"/>
<rect x="227.5" y="414" width="8" height="1" fill="#888"/><rect x="228.5" y="416.5" width="6" height="1" fill="#888"/>
<rect x="78" y="480" width="162" height="3.2" fill="#e8e8e8"/><rect x="84" y="480.6" width="129.6" height="2" fill="#c4c4c4"/>
</svg></div>
<div class="bt" style="left:21px;top:432px;font-size:18px;letter-spacing:-0.08px">Quality Index and CRIMS</div>

<!-- Datum -->
<div class="bt" style="left:6.5px;top:506px;font-size:18px">Datum</div>
<div class="box sh" style="left:8px;top:524.4px;width:233px;height:100.6px;overflow:hidden">
<svg class="a" style="left:0;top:0" width="229" height="97" viewBox="10 526.4 229 96.6">
<defs>
<linearGradient id="dgw" gradientUnits="userSpaceOnUse" x1="20" y1="0" x2="210" y2="0">
<stop offset="0" stop-color="#1436d8"/><stop offset="0.12" stop-color="#1a5ae4"/><stop offset="0.2" stop-color="#18b0ec"/><stop offset="0.3" stop-color="#18e0f0"/><stop offset="0.55" stop-color="#20d0e8"/><stop offset="0.68" stop-color="#20d8b0"/><stop offset="0.76" stop-color="#30d040"/><stop offset="0.86" stop-color="#c8d818"/><stop offset="0.93" stop-color="#f0b010"/><stop offset="1" stop-color="#f06010"/>
</linearGradient>
<linearGradient id="dgf" gradientUnits="userSpaceOnUse" x1="35" y1="0" x2="222" y2="0">
<stop offset="0" stop-color="#1848d8"/><stop offset="0.12" stop-color="#1a70e0"/><stop offset="0.22" stop-color="#20b8d0"/><stop offset="0.45" stop-color="#20c8b8"/><stop offset="0.7" stop-color="#22c4b0"/><stop offset="0.85" stop-color="#20bcd0"/><stop offset="1" stop-color="#1890e0"/>
</linearGradient>
<linearGradient id="dgr" gradientUnits="userSpaceOnUse" x1="37" y1="0" x2="221" y2="0">
<stop offset="0" stop-color="#30c8c8"/><stop offset="0.3" stop-color="#30d0b0"/><stop offset="0.5" stop-color="#40d850"/><stop offset="0.75" stop-color="#38d070"/><stop offset="0.88" stop-color="#28c0e0"/><stop offset="1" stop-color="#1850e8"/>
</linearGradient>
<radialGradient id="dg3" cx="0.5" cy="0.5" r="0.5"><stop offset="0" stop-color="#0a28c8"/><stop offset="0.6" stop-color="#1a50d8" stop-opacity="0.7"/><stop offset="1" stop-color="#20a0e0" stop-opacity="0"/></radialGradient>
<radialGradient id="dg4" cx="0.5" cy="0.5" r="0.5"><stop offset="0" stop-color="#e81010"/><stop offset="1" stop-color="#e81010" stop-opacity="0"/></radialGradient>
</defs>
<path d="M20 550 L24 541 L35 537 L50 538 L60 543 L95 540 L140 536 L190 532 L207 530.5 L213 535 L216 555 L222 562 L222.5 578 L218 592 L212 599 L190 601 L189 608 L140 615 L115 618 L88 619 L64 618 L45 615 L35 611 L28 595 L23 572 Z" fill="#1c9ce0"/>
<path d="M50 575 L82 572 L82 590 L77 600 L40 596 Z" fill="#1a7ee0"/>
<!-- back wall -->
<path d="M24 541 L35 537 L50 538 L60 543 L95 540 L140 536 L190 532 L207 530.5 L213 536 L214 562 L196 566 L120 568 L60 572 L50 580 L40 590 Z" fill="url(#dgw)"/>
<ellipse cx="128" cy="552" rx="14" ry="11" fill="url(#dg3)"/>
<ellipse cx="205.5" cy="532.5" rx="4.5" ry="3.5" fill="url(#dg4)"/>
<rect x="96" y="542" width="6" height="20" fill="#38e8f0" opacity="0.55"/>
<rect x="161" y="537" width="6" height="22" fill="#70f070" opacity="0.5"/>
<!-- right end wall -->
<path d="M207 530.5 L212 534 L215 545 L216 555 L222 562 L222.5 578 L216 578 L212 566 L210 545 Z" fill="#90d028"/>
<path d="M214 556 L222 562 L222.5 578 L216 578 L213 566 Z" fill="#28b8e0"/>
<!-- left end -->
<path d="M20 550 L24 541 L35 537 L50 538 L56 545 L56 588 L46 598 L44 615 L35 611 L28 595 L23 572 Z" fill="#1438d6"/>
<path d="M42 545 L56 545 L60 560 L58 585 L46 596 Z" fill="#1c64e2" opacity="0.75"/>
<!-- floor -->
<path d="M56 574 L120 567 L196 563 L214 569 L214 576 L120 583 L82 586 L60 590 Z" fill="#28d0e0"/>
<path d="M105 577 L130 574 L130 583 L105 585 Z" fill="#40d870" opacity="0.8"/>
<g stroke="#0b4850" stroke-width="0.7" opacity="0.6">
<path d="M67 572 V586 M71 572 V585 M75 571 V585 M112 568 V580 M116 568 V580 M120 567 V580 M124 567 V579 M128 567 V579 M132 566 V578 M136 566 V578 M140 566 V578 M144 566 V578 M148 565 V577 M152 565 V577 M156 565 V577 M160 564 V577 M164 564 V576 M168 564 V576 M172 564 V576 M176 564 V575 M180 563 V575"/>
<path d="M110 573 L185 568 M110 577 L185 572"/>
</g>
<ellipse cx="100" cy="580.6" rx="4.5" ry="1.8" fill="#fff"/>
<ellipse cx="196.2" cy="570.5" rx="6" ry="2.6" fill="#e8e030"/>
<ellipse cx="196.2" cy="570.5" rx="4.6" ry="1.9" fill="#fff"/>
<!-- front wall -->
<path d="M37 597 L77 602 L82 588 L120 584 L220.6 577 L222.5 580 L218 592 L212 599 L190 601 L189 607.8 Q186 611 180 610 Q172 612 168 611 Q160 614 153 613 Q146 615 140 614.6 Q128 618 115 617.5 Q108 614 104 613 Q96 618 88 618.5 Q76 619 64 618 L45 615 L38 608 Z" fill="url(#dgf)"/>
<path d="M40 600 L75 604 L80 616 L64 618 L45 615 Z" fill="#1438c0" opacity="0.7"/>
<g stroke="#0e5a60" stroke-width="0.9" opacity="0.55">
<path d="M48 604 L52 615 M54 605 L57 616 M60 606 L62 617 M66 606 L67 617 M86 590 V612 M90 590 V616 M96 589 V610 M104 589 V610 M108 588 V612 M116 588 V616 M126 587 V616 M132 587 V610 M142 586 V612 M150 585 V613 M160 584 V611 M166 584 V609 M176 583 V608 M184 582 V607 M194 581 V600 M200 580 V599 M206 580 V598 M212 579 V596 M216 579 V590"/>
</g>
<!-- front rim -->
<path d="M37 596 L77 601 L82 587 L120 583 L220.6 576" stroke="url(#dgr)" stroke-width="3.6" fill="none" stroke-linejoin="round"/>
<path d="M38 593.8 L77 598.8 L81 585.3 L120 581.2 L220 574.3" stroke="#60f0f0" stroke-width="0.7" fill="none" opacity="0.7"/>
<!-- rim top edge highlight -->
<path d="M26 540 L35 537 L50 538 L60 543 L95 540 L140 536 L190 532 L207 530.5" stroke="#40e8f8" stroke-width="1.3" fill="none" opacity="0.7"/>
<!-- axis -->
<path d="M21 549 L36 591" stroke="#209898" stroke-width="2.2"/>
<circle cx="21" cy="548.5" r="2.2" fill="#eee" stroke="#888" stroke-width="0.5"/>
<text x="24" y="551" font-family="Liberation Sans" font-size="7.5" fill="#9a9a9a">XY</text>
<circle cx="36" cy="591" r="2.1" fill="#eee" stroke="#888" stroke-width="0.5"/>
<path d="M36 591 H47 M36 591 V583" stroke="#ddd" stroke-width="1"/>
<circle cx="224.5" cy="573.5" r="2" fill="#eee" stroke="#888" stroke-width="0.5"/>
<text x="226" y="577" font-family="Liberation Sans" font-size="8" fill="#9a9a9a">X</text>
</svg></div>

<!-- Define -->
<div class="box" style="left:410px;top:44.2px;width:233.5px;height:178.3px;border-width:3px;overflow:hidden">
<svg class="a" style="left:0;top:0" width="227.5" height="172.3" viewBox="413 47.2 227.5 172.3" fill="none" stroke="#111" stroke-width="0.85">
<rect x="413" y="47" width="228" height="172" fill="#fff" stroke="none"/>
<!-- extension lines -->
<path d="M429 114 V196 M500.4 114 V158 M535.3 114 V158 M594.7 114 V205"/>
<path d="M553 114 L541 144" />
<path d="M565 115 l2 -1 M568 116 l3 -2 M590 115 v-1" stroke-width="1.2"/>
<!-- horizontal lines -->
<path d="M413 159.3 H446 M413 166 H440 M413 179 H436 M413 190 H424"/>
<path d="M413 207.9 H640 M413 210.7 H640 M413 216.4 H620 M413 214 H470" stroke-width="0.6"/>
<path d="M432 208 V217 M498 208 V215 M535 208 V215 M560 208 L575 213"/>
<!-- top boss -->
<path d="M545 150 V133 Q545 128 552 128 Q560 128 560 133 V148"/>
<ellipse cx="552" cy="132.5" rx="3" ry="1.5"/>
<path d="M562 148 V137 Q562 133 570 133 Q578 133 578 137 V155 M578 140 L582 155"/>
<path d="M500 149 Q530 140 560 146"/>
<!-- grid between -->
<path d="M505 152 H530 V170 H505 Z M505 172 H530 V188 H505 Z M505 190 H530 V205 H505 Z M517 152 V205" stroke-width="0.5"/>
<path d="M540 168 l3 6 M522 170 l2 8" stroke-width="0.5"/>
<!-- left partial shapes -->
<path d="M413 170 Q430 160 446 165 M413 185 Q420 175 440 178 Q445 185 440 195" stroke-width="0.6"/>
<path d="M413 172 Q418 180 413 190" stroke-width="0.6"/>
<!-- left teardrop -->
<g>
<path d="M473.7 143.5 C 486 143.5 495 158 501.5 172 C 508 187 507 205.5 492 205.5 H 455.4 C 440.4 205.5 439.4 187 445.9 172 C 452.4 158 461.4 143.5 473.7 143.5 Z" stroke-width="1.6"/>
<path d="M473.7 143.5 C 486 143.5 495 158 501.5 172 C 508 187 507 205.5 492 205.5 H 455.4 C 440.4 205.5 439.4 187 445.9 172 C 452.4 158 461.4 143.5 473.7 143.5 Z" stroke-width="1.0" transform="translate(473.7 183) scale(0.91) translate(-473.7 -183)"/>
<path d="M473.7 143.5 C 486 143.5 495 158 501.5 172 C 508 187 507 205.5 492 205.5 H 455.4 C 440.4 205.5 439.4 187 445.9 172 C 452.4 158 461.4 143.5 473.7 143.5 Z" stroke-width="0.7" transform="translate(473.7 183) scale(0.84) translate(-473.7 -183)"/>
<path d="M 451 186 C 451 174 460 169 465 169 L 482.4 169 C 487.4 169 496.4 174 496.4 186 C 496.4 196 491 198.5 486 198.5 H 461.4 C 456.4 198.5 451 196 451 186 Z" stroke-width="0.8"/>
<path d="M468.2 167 V160 A5.5 5.5 0 0 1 479.2 160 V167" stroke-width="0.7"/>
<path d="M466 169 Q473.7 173 481.4 169" stroke-width="0.6"/>
<path d="M462 203.6 H485.4" stroke-width="2"/>
<path d="M471 144 V146.5 M476.4 144 V146.5" stroke-width="0.6"/>
</g>
<!-- right teardrop -->
<g transform="translate(88.6 0)">
<path d="M473.7 143.5 C 486 143.5 495 158 501.5 172 C 508 187 507 205.5 492 205.5 H 455.4 C 440.4 205.5 439.4 187 445.9 172 C 452.4 158 461.4 143.5 473.7 143.5 Z" stroke-width="1.6"/>
<path d="M473.7 143.5 C 486 143.5 495 158 501.5 172 C 508 187 507 205.5 492 205.5 H 455.4 C 440.4 205.5 439.4 187 445.9 172 C 452.4 158 461.4 143.5 473.7 143.5 Z" stroke-width="1.0" transform="translate(473.7 183) scale(0.91) translate(-473.7 -183)"/>
<path d="M473.7 143.5 C 486 143.5 495 158 501.5 172 C 508 187 507 205.5 492 205.5 H 455.4 C 440.4 205.5 439.4 187 445.9 172 C 452.4 158 461.4 143.5 473.7 143.5 Z" stroke-width="0.7" transform="translate(473.7 183) scale(0.84) translate(-473.7 -183)"/>
<path d="M 451 186 C 451 174 460 169 465 169 L 482.4 169 C 487.4 169 496.4 174 496.4 186 C 496.4 196 491 198.5 486 198.5 H 461.4 C 456.4 198.5 451 196 451 186 Z" stroke-width="0.8"/>
<path d="M468.2 167 V160 A5.5 5.5 0 0 1 479.2 160 V167" stroke-width="0.7"/>
<path d="M466 169 Q473.7 173 481.4 169" stroke-width="0.6"/>
<path d="M462 203.6 H485.4" stroke-width="2"/>
<path d="M471 144 V146.5 M476.4 144 V146.5" stroke-width="0.6"/>
</g>
<path d="M592 170 Q600 175 600 185 Q600 195 595 198 L 598 200" stroke-width="0.7"/>
<path d="M446 167 Q440 162 435 170" stroke-width="0.6"/>
<!-- bolt circles -->
<g stroke-width="1">
<circle cx="500.4" cy="159.3" r="8.4"/><circle cx="500.4" cy="159.3" r="6.4" stroke-width="1.4"/><circle cx="500.4" cy="159.3" r="4.3"/>
<circle cx="535.3" cy="159.3" r="8.4"/><circle cx="535.3" cy="159.3" r="6.4" stroke-width="1.4"/><circle cx="535.3" cy="159.3" r="4.3"/>
<circle cx="429" cy="195.5" r="9"/><circle cx="429" cy="195.5" r="6.8" stroke-width="1.4"/><circle cx="429" cy="195.5" r="4.5"/>
<circle cx="595.6" cy="206.9" r="8"/><circle cx="595.6" cy="206.9" r="6" stroke-width="1.4"/><circle cx="595.6" cy="206.9" r="4"/>
</g>
<path d="M490 159.3 H546 M429 186 V205 M420 195.5 H438 M590 202 L612 216 M532 164 L540 152" stroke-width="0.5"/>
<!-- label -->
<rect x="422.9" y="49.9" width="208" height="64.4" fill="#f2f2f2" stroke="none"/>
<rect x="631.3" y="61.9" width="7.6" height="7.6" fill="#eee" stroke="#888" stroke-width="0.6"/>
<text x="632.5" y="68.3" font-family="Liberation Sans" font-size="6.5" fill="#666" stroke="none">9</text>
</svg>
<div class="bt" style="left:0;width:227.5px;text-align:center;top:11.5px;font-size:18px;line-height:25px">Define critical<br>dimensions(GD&amp;T)</div>
</div>

<!-- Gate -->
<div class="box" style="left:366px;top:259px;width:323px;height:255px;border-width:3px;overflow:hidden">
<svg class="a" style="left:0;top:0" width="317" height="248" viewBox="369 262 317 248">
<defs><linearGradient id="tgA" x1="0" y1="0" x2="1" y2="0.3"><stop offset="0" stop-color="#1a5ae0"/><stop offset="0.12" stop-color="#22c8e0"/><stop offset="0.3" stop-color="#40d040"/><stop offset="0.5" stop-color="#e0a020"/><stop offset="0.62" stop-color="#e05018"/><stop offset="0.78" stop-color="#e8d020"/><stop offset="0.9" stop-color="#60d040"/><stop offset="1" stop-color="#20b0e0"/></linearGradient><linearGradient id="tgB" x1="0" y1="0" x2="1" y2="1"><stop offset="0" stop-color="#1838d8"/><stop offset="0.3" stop-color="#1e80e8"/><stop offset="0.55" stop-color="#22c8d8"/><stop offset="0.75" stop-color="#60d040"/><stop offset="0.88" stop-color="#e8d020"/><stop offset="1" stop-color="#f07010"/></linearGradient><linearGradient id="tgC" x1="0" y1="0" x2="1" y2="0.6"><stop offset="0" stop-color="#20b0e0"/><stop offset="0.2" stop-color="#22d0d0"/><stop offset="0.45" stop-color="#60d040"/><stop offset="0.6" stop-color="#b0d030"/><stop offset="0.75" stop-color="#40c8a0"/><stop offset="0.88" stop-color="#1840d8"/><stop offset="1" stop-color="#20a0e0"/></linearGradient><linearGradient id="tgD" x1="0" y1="1" x2="0" y2="0"><stop offset="0" stop-color="#1840d8"/><stop offset="0.3" stop-color="#20c0e0"/><stop offset="0.55" stop-color="#30d0b0"/><stop offset="0.8" stop-color="#70d040"/><stop offset="1" stop-color="#d0d030"/></linearGradient><linearGradient id="tgE" x1="0" y1="0" x2="1" y2="0.5"><stop offset="0" stop-color="#22c0d0"/><stop offset="0.25" stop-color="#40d060"/><stop offset="0.5" stop-color="#60d040"/><stop offset="0.7" stop-color="#30c8c0"/><stop offset="0.82" stop-color="#1840d8"/><stop offset="1" stop-color="#30b0e0"/></linearGradient><linearGradient id="leg" x1="0" y1="0" x2="0" y2="1"><stop offset="0" stop-color="#ff2000"/><stop offset="0.25" stop-color="#ffe000"/><stop offset="0.5" stop-color="#20d020"/><stop offset="0.75" stop-color="#00e0e0"/><stop offset="1" stop-color="#0010ff"/></linearGradient><linearGradient id="shade" x1="0" y1="0" x2="0" y2="1"><stop offset="0" stop-color="#fff" stop-opacity="0.15"/><stop offset="0.5" stop-color="#000" stop-opacity="0"/><stop offset="1" stop-color="#003" stop-opacity="0.18"/></linearGradient></defs>
<rect x="375.6" y="268.8" width="94.6" height="54.8" rx="4.5" fill="#fff" stroke="#a8a8a8" stroke-width="1.2"/>
<rect x="380.0" y="275.2" width="20" height="0.8" fill="#bbb"/><rect x="380.0" y="277.2" width="38" height="0.9" fill="#999"/><rect x="380.0" y="279.2" width="14" height="0.8" fill="#aaa"/>
<rect x="380.2" y="281.0" width="2.6" height="25" fill="url(#leg)"/>
<g fill="#bbb"><rect x="383.5" y="281.2" width="3" height="0.7"/><rect x="383.5" y="287.2" width="3" height="0.7"/><rect x="383.5" y="293.2" width="3" height="0.7"/><rect x="383.5" y="299.2" width="3" height="0.7"/><rect x="383.5" y="305.2" width="4" height="0.7"/></g>
<path d="M431.0 276.2 V284.2 L463.0 291.2 V298.2" stroke="#aaa" stroke-width="0.5" fill="none"/>
<path d="M397.0 294.2 L401.0 285.2 L402.0 283.7 C402.0 280.2 407.6 281.3 407.6 284.8 L412.2 285.6 L412.2 285.6 C412.2 282.1 417.8 283.2 417.8 286.7 L422.3 287.5 L422.3 287.5 C422.3 284.0 427.9 285.1 427.9 288.6 L432.5 289.4 L432.5 289.4 C432.5 285.9 438.1 287.0 438.1 290.5 L442.7 291.4 L442.7 291.4 C442.7 287.9 448.3 288.9 448.3 292.4 L452.8 293.3 L452.8 293.3 C452.8 289.8 458.4 290.8 458.4 294.3 L463.0 295.2 L467.0 299.2 L465.0 304.2 L461.0 312.2 Q454.8 313.8 448.6 311.0 Q442.4 312.1 436.2 309.3 Q430.0 310.4 423.8 307.6 Q417.6 308.8 411.4 305.9 Q405.2 307.1 399.0 304.2 L396.0 301.2 Z" fill="url(#tgA)"/>
<path d="M397.0 294.2 L401.0 285.2 L402.0 283.7 C402.0 280.2 407.6 281.3 407.6 284.8 L412.2 285.6 L412.2 285.6 C412.2 282.1 417.8 283.2 417.8 286.7 L422.3 287.5 L422.3 287.5 C422.3 284.0 427.9 285.1 427.9 288.6 L432.5 289.4 L432.5 289.4 C432.5 285.9 438.1 287.0 438.1 290.5 L442.7 291.4 L442.7 291.4 C442.7 287.9 448.3 288.9 448.3 292.4 L452.8 293.3 L452.8 293.3 C452.8 289.8 458.4 290.8 458.4 294.3 L463.0 295.2 L467.0 299.2 L465.0 304.2 L461.0 312.2 Q454.8 313.8 448.6 311.0 Q442.4 312.1 436.2 309.3 Q430.0 310.4 423.8 307.6 Q417.6 308.8 411.4 305.9 Q405.2 307.1 399.0 304.2 L396.0 301.2 Z" fill="url(#shade)" stroke="#0a2050" stroke-opacity="0.45" stroke-width="0.6"/>
<path d="M397.0 297.2 L459.0 309.2 L465.0 302.2" stroke="#0a3060" stroke-opacity="0.25" stroke-width="0.8" fill="none"/>
<ellipse cx="412.0" cy="289.2" rx="1.6" ry="0.9" fill="#fff"/>
<ellipse cx="423.0" cy="292.2" rx="1.6" ry="0.9" fill="#fff"/>
<ellipse cx="434.0" cy="294.7" rx="1.6" ry="0.9" fill="#fff"/>
<ellipse cx="445.0" cy="297.2" rx="1.6" ry="0.9" fill="#fff"/>
<ellipse cx="456.0" cy="299.7" rx="1.6" ry="0.9" fill="#fff"/>
<ellipse cx="458.0" cy="307.2" rx="1.6" ry="0.9" fill="#fff"/>
<text x="380.6" y="318.8" font-family="Liberation Sans" font-weight="bold" font-style="italic" font-size="8.6" fill="#2020f0" stroke="#2020f0" stroke-width="0.25" textLength="53" lengthAdjust="spacingAndGlyphs">[0.35, 0.29, 0.55 %]</text>
<path d="M447.0 318.7 H459.0" stroke="#ccc" stroke-width="0.5"/>
<rect x="479.2" y="268.8" width="94.6" height="54.8" rx="4.5" fill="#fff" stroke="#a8a8a8" stroke-width="1.2"/>
<rect x="483.6" y="275.2" width="20" height="0.8" fill="#bbb"/><rect x="483.6" y="277.2" width="38" height="0.9" fill="#999"/><rect x="483.6" y="279.2" width="14" height="0.8" fill="#aaa"/>
<rect x="483.8" y="281.0" width="2.6" height="25" fill="url(#leg)"/>
<g fill="#bbb"><rect x="487.1" y="281.2" width="3" height="0.7"/><rect x="487.1" y="287.2" width="3" height="0.7"/><rect x="487.1" y="293.2" width="3" height="0.7"/><rect x="487.1" y="299.2" width="3" height="0.7"/><rect x="487.1" y="305.2" width="4" height="0.7"/></g>
<path d="M534.6 276.2 V284.2 L566.6 291.2 V298.2" stroke="#aaa" stroke-width="0.5" fill="none"/>
<path d="M500.6 294.2 L504.6 285.2 L505.6 283.7 C505.6 280.2 511.2 281.3 511.2 284.8 L515.8 285.6 L515.8 285.6 C515.8 282.1 521.4 283.2 521.4 286.7 L525.9 287.5 L525.9 287.5 C525.9 284.0 531.5 285.1 531.5 288.6 L536.1 289.4 L536.1 289.4 C536.1 285.9 541.7 287.0 541.7 290.5 L546.3 291.4 L546.3 291.4 C546.3 287.9 551.9 288.9 551.9 292.4 L556.4 293.3 L556.4 293.3 C556.4 289.8 562.0 290.8 562.0 294.3 L566.6 295.2 L570.6 299.2 L568.6 304.2 L564.6 312.2 Q558.4 313.8 552.2 311.0 Q546.0 312.1 539.8 309.3 Q533.6 310.4 527.4 307.6 Q521.2 308.8 515.0 305.9 Q508.8 307.1 502.6 304.2 L499.6 301.2 Z" fill="url(#tgB)"/>
<path d="M500.6 294.2 L504.6 285.2 L505.6 283.7 C505.6 280.2 511.2 281.3 511.2 284.8 L515.8 285.6 L515.8 285.6 C515.8 282.1 521.4 283.2 521.4 286.7 L525.9 287.5 L525.9 287.5 C525.9 284.0 531.5 285.1 531.5 288.6 L536.1 289.4 L536.1 289.4 C536.1 285.9 541.7 287.0 541.7 290.5 L546.3 291.4 L546.3 291.4 C546.3 287.9 551.9 288.9 551.9 292.4 L556.4 293.3 L556.4 293.3 C556.4 289.8 562.0 290.8 562.0 294.3 L566.6 295.2 L570.6 299.2 L568.6 304.2 L564.6 312.2 Q558.4 313.8 552.2 311.0 Q546.0 312.1 539.8 309.3 Q533.6 310.4 527.4 307.6 Q521.2 308.8 515.0 305.9 Q508.8 307.1 502.6 304.2 L499.6 301.2 Z" fill="url(#shade)" stroke="#0a2050" stroke-opacity="0.45" stroke-width="0.6"/>
<path d="M500.6 297.2 L562.6 309.2 L568.6 302.2" stroke="#0a3060" stroke-opacity="0.25" stroke-width="0.8" fill="none"/>
<ellipse cx="515.6" cy="289.2" rx="1.6" ry="0.9" fill="#fff"/>
<ellipse cx="526.6" cy="292.2" rx="1.6" ry="0.9" fill="#fff"/>
<ellipse cx="537.6" cy="294.7" rx="1.6" ry="0.9" fill="#fff"/>
<ellipse cx="548.6" cy="297.2" rx="1.6" ry="0.9" fill="#fff"/>
<ellipse cx="559.6" cy="299.7" rx="1.6" ry="0.9" fill="#fff"/>
<ellipse cx="561.6" cy="307.2" rx="1.6" ry="0.9" fill="#fff"/>
<text x="484.2" y="318.8" font-family="Liberation Sans" font-weight="bold" font-style="italic" font-size="8.6" fill="#2020f0" stroke="#2020f0" stroke-width="0.25" textLength="53" lengthAdjust="spacingAndGlyphs">[0.39, 0.20, 0.74 %]</text>
<path d="M550.6 318.7 H562.6" stroke="#ccc" stroke-width="0.5"/>
<rect x="582.6" y="268.8" width="94.6" height="54.8" rx="4.5" fill="#fff" stroke="#a8a8a8" stroke-width="1.2"/>
<rect x="587.0" y="275.2" width="20" height="0.8" fill="#bbb"/><rect x="587.0" y="277.2" width="38" height="0.9" fill="#999"/><rect x="587.0" y="279.2" width="14" height="0.8" fill="#aaa"/>
<rect x="587.2" y="281.0" width="2.6" height="25" fill="url(#leg)"/>
<g fill="#bbb"><rect x="590.5" y="281.2" width="3" height="0.7"/><rect x="590.5" y="287.2" width="3" height="0.7"/><rect x="590.5" y="293.2" width="3" height="0.7"/><rect x="590.5" y="299.2" width="3" height="0.7"/><rect x="590.5" y="305.2" width="4" height="0.7"/></g>
<path d="M638.0 276.2 V284.2 L670.0 291.2 V298.2" stroke="#aaa" stroke-width="0.5" fill="none"/>
<path d="M604.0 294.2 L608.0 285.2 L609.0 283.7 C609.0 280.2 614.6 281.3 614.6 284.8 L619.2 285.6 L619.2 285.6 C619.2 282.1 624.8 283.2 624.8 286.7 L629.3 287.5 L629.3 287.5 C629.3 284.0 634.9 285.1 634.9 288.6 L639.5 289.4 L639.5 289.4 C639.5 285.9 645.1 287.0 645.1 290.5 L649.7 291.4 L649.7 291.4 C649.7 287.9 655.3 288.9 655.3 292.4 L659.8 293.3 L659.8 293.3 C659.8 289.8 665.4 290.8 665.4 294.3 L670.0 295.2 L674.0 299.2 L672.0 304.2 L668.0 312.2 Q661.8 313.8 655.6 311.0 Q649.4 312.1 643.2 309.3 Q637.0 310.4 630.8 307.6 Q624.6 308.8 618.4 305.9 Q612.2 307.1 606.0 304.2 L603.0 301.2 Z" fill="url(#tgC)"/>
<path d="M604.0 294.2 L608.0 285.2 L609.0 283.7 C609.0 280.2 614.6 281.3 614.6 284.8 L619.2 285.6 L619.2 285.6 C619.2 282.1 624.8 283.2 624.8 286.7 L629.3 287.5 L629.3 287.5 C629.3 284.0 634.9 285.1 634.9 288.6 L639.5 289.4 L639.5 289.4 C639.5 285.9 645.1 287.0 645.1 290.5 L649.7 291.4 L649.7 291.4 C649.7 287.9 655.3 288.9 655.3 292.4 L659.8 293.3 L659.8 293.3 C659.8 289.8 665.4 290.8 665.4 294.3 L670.0 295.2 L674.0 299.2 L672.0 304.2 L668.0 312.2 Q661.8 313.8 655.6 311.0 Q649.4 312.1 643.2 309.3 Q637.0 310.4 630.8 307.6 Q624.6 308.8 618.4 305.9 Q612.2 307.1 606.0 304.2 L603.0 301.2 Z" fill="url(#shade)" stroke="#0a2050" stroke-opacity="0.45" stroke-width="0.6"/>
<path d="M604.0 297.2 L666.0 309.2 L672.0 302.2" stroke="#0a3060" stroke-opacity="0.25" stroke-width="0.8" fill="none"/>
<ellipse cx="619.0" cy="289.2" rx="1.6" ry="0.9" fill="#fff"/>
<ellipse cx="630.0" cy="292.2" rx="1.6" ry="0.9" fill="#fff"/>
<ellipse cx="641.0" cy="294.7" rx="1.6" ry="0.9" fill="#fff"/>
<ellipse cx="652.0" cy="297.2" rx="1.6" ry="0.9" fill="#fff"/>
<ellipse cx="663.0" cy="299.7" rx="1.6" ry="0.9" fill="#fff"/>
<ellipse cx="665.0" cy="307.2" rx="1.6" ry="0.9" fill="#fff"/>
<text x="587.6" y="318.8" font-family="Liberation Sans" font-weight="bold" font-style="italic" font-size="8.6" fill="#2020f0" stroke="#2020f0" stroke-width="0.25" textLength="53" lengthAdjust="spacingAndGlyphs">[0.46, 0.45, 0.60 %]</text>
<path d="M654.0 318.7 H666.0" stroke="#ccc" stroke-width="0.5"/>
<rect x="375.6" y="332.7" width="94.6" height="54.8" rx="4.5" fill="#fff" stroke="#a8a8a8" stroke-width="1.2"/>
<rect x="380.0" y="339.1" width="20" height="0.8" fill="#bbb"/><rect x="380.0" y="341.1" width="38" height="0.9" fill="#999"/><rect x="380.0" y="343.1" width="14" height="0.8" fill="#aaa"/>
<rect x="380.2" y="344.9" width="2.6" height="25" fill="url(#leg)"/>
<g fill="#bbb"><rect x="383.5" y="345.1" width="3" height="0.7"/><rect x="383.5" y="351.1" width="3" height="0.7"/><rect x="383.5" y="357.1" width="3" height="0.7"/><rect x="383.5" y="363.1" width="3" height="0.7"/><rect x="383.5" y="369.1" width="4" height="0.7"/></g>
<path d="M431.0 340.1 V348.1 L463.0 355.1 V362.1" stroke="#aaa" stroke-width="0.5" fill="none"/>
<path d="M397.0 358.1 L401.0 349.1 L402.0 347.6 C402.0 344.1 407.6 345.2 407.6 348.7 L412.2 349.5 L412.2 349.5 C412.2 346.0 417.8 347.1 417.8 350.6 L422.3 351.4 L422.3 351.4 C422.3 347.9 427.9 349.0 427.9 352.5 L432.5 353.4 L432.5 353.4 C432.5 349.9 438.1 350.9 438.1 354.4 L442.7 355.3 L442.7 355.3 C442.7 351.8 448.3 352.8 448.3 356.3 L452.8 357.2 L452.8 357.2 C452.8 353.7 458.4 354.7 458.4 358.2 L463.0 359.1 L467.0 363.1 L465.0 368.1 L461.0 376.1 Q454.8 377.8 448.6 374.9 Q442.4 376.1 436.2 373.2 Q430.0 374.4 423.8 371.5 Q417.6 372.7 411.4 369.8 Q405.2 371.0 399.0 368.1 L396.0 365.1 Z" fill="url(#tgD)"/>
<path d="M397.0 358.1 L401.0 349.1 L402.0 347.6 C402.0 344.1 407.6 345.2 407.6 348.7 L412.2 349.5 L412.2 349.5 C412.2 346.0 417.8 347.1 417.8 350.6 L422.3 351.4 L422.3 351.4 C422.3 347.9 427.9 349.0 427.9 352.5 L432.5 353.4 L432.5 353.4 C432.5 349.9 438.1 350.9 438.1 354.4 L442.7 355.3 L442.7 355.3 C442.7 351.8 448.3 352.8 448.3 356.3 L452.8 357.2 L452.8 357.2 C452.8 353.7 458.4 354.7 458.4 358.2 L463.0 359.1 L467.0 363.1 L465.0 368.1 L461.0 376.1 Q454.8 377.8 448.6 374.9 Q442.4 376.1 436.2 373.2 Q430.0 374.4 423.8 371.5 Q417.6 372.7 411.4 369.8 Q405.2 371.0 399.0 368.1 L396.0 365.1 Z" fill="url(#shade)" stroke="#0a2050" stroke-opacity="0.45" stroke-width="0.6"/>
<path d="M397.0 361.1 L459.0 373.1 L465.0 366.1" stroke="#0a3060" stroke-opacity="0.25" stroke-width="0.8" fill="none"/>
<ellipse cx="412.0" cy="353.1" rx="1.6" ry="0.9" fill="#fff"/>
<ellipse cx="423.0" cy="356.1" rx="1.6" ry="0.9" fill="#fff"/>
<ellipse cx="434.0" cy="358.6" rx="1.6" ry="0.9" fill="#fff"/>
<ellipse cx="445.0" cy="361.1" rx="1.6" ry="0.9" fill="#fff"/>
<ellipse cx="456.0" cy="363.6" rx="1.6" ry="0.9" fill="#fff"/>
<ellipse cx="458.0" cy="371.1" rx="1.6" ry="0.9" fill="#fff"/>
<text x="380.6" y="382.7" font-family="Liberation Sans" font-weight="bold" font-style="italic" font-size="8.6" fill="#2020f0" stroke="#2020f0" stroke-width="0.25" textLength="53" lengthAdjust="spacingAndGlyphs">[0.38, 0.23, 0.63 %]</text>
<path d="M447.0 382.6 H459.0" stroke="#ccc" stroke-width="0.5"/>
<rect x="479.2" y="332.7" width="94.6" height="54.8" rx="4.5" fill="#fff" stroke="#a8a8a8" stroke-width="1.2"/>
<rect x="483.6" y="339.1" width="20" height="0.8" fill="#bbb"/><rect x="483.6" y="341.1" width="38" height="0.9" fill="#999"/><rect x="483.6" y="343.1" width="14" height="0.8" fill="#aaa"/>
<rect x="483.8" y="344.9" width="2.6" height="25" fill="url(#leg)"/>
<g fill="#bbb"><rect x="487.1" y="345.1" width="3" height="0.7"/><rect x="487.1" y="351.1" width="3" height="0.7"/><rect x="487.1" y="357.1" width="3" height="0.7"/><rect x="487.1" y="363.1" width="3" height="0.7"/><rect x="487.1" y="369.1" width="4" height="0.7"/></g>
<path d="M534.6 340.1 V348.1 L566.6 355.1 V362.1" stroke="#aaa" stroke-width="0.5" fill="none"/>
<path d="M500.6 358.1 L504.6 349.1 L505.6 347.6 C505.6 344.1 511.2 345.2 511.2 348.7 L515.8 349.5 L515.8 349.5 C515.8 346.0 521.4 347.1 521.4 350.6 L525.9 351.4 L525.9 351.4 C525.9 347.9 531.5 349.0 531.5 352.5 L536.1 353.4 L536.1 353.4 C536.1 349.9 541.7 350.9 541.7 354.4 L546.3 355.3 L546.3 355.3 C546.3 351.8 551.9 352.8 551.9 356.3 L556.4 357.2 L556.4 357.2 C556.4 353.7 562.0 354.7 562.0 358.2 L566.6 359.1 L570.6 363.1 L568.6 368.1 L564.6 376.1 Q558.4 377.8 552.2 374.9 Q546.0 376.1 539.8 373.2 Q533.6 374.4 527.4 371.5 Q521.2 372.7 515.0 369.8 Q508.8 371.0 502.6 368.1 L499.6 365.1 Z" fill="url(#tgB)"/>
<path d="M500.6 358.1 L504.6 349.1 L505.6 347.6 C505.6 344.1 511.2 345.2 511.2 348.7 L515.8 349.5 L515.8 349.5 C515.8 346.0 521.4 347.1 521.4 350.6 L525.9 351.4 L525.9 351.4 C525.9 347.9 531.5 349.0 531.5 352.5 L536.1 353.4 L536.1 353.4 C536.1 349.9 541.7 350.9 541.7 354.4 L546.3 355.3 L546.3 355.3 C546.3 351.8 551.9 352.8 551.9 356.3 L556.4 357.2 L556.4 357.2 C556.4 353.7 562.0 354.7 562.0 358.2 L566.6 359.1 L570.6 363.1 L568.6 368.1 L564.6 376.1 Q558.4 377.8 552.2 374.9 Q546.0 376.1 539.8 373.2 Q533.6 374.4 527.4 371.5 Q521.2 372.7 515.0 369.8 Q508.8 371.0 502.6 368.1 L499.6 365.1 Z" fill="url(#shade)" stroke="#0a2050" stroke-opacity="0.45" stroke-width="0.6"/>
<path d="M500.6 361.1 L562.6 373.1 L568.6 366.1" stroke="#0a3060" stroke-opacity="0.25" stroke-width="0.8" fill="none"/>
<ellipse cx="515.6" cy="353.1" rx="1.6" ry="0.9" fill="#fff"/>
<ellipse cx="526.6" cy="356.1" rx="1.6" ry="0.9" fill="#fff"/>
<ellipse cx="537.6" cy="358.6" rx="1.6" ry="0.9" fill="#fff"/>
<ellipse cx="548.6" cy="361.1" rx="1.6" ry="0.9" fill="#fff"/>
<ellipse cx="559.6" cy="363.6" rx="1.6" ry="0.9" fill="#fff"/>
<ellipse cx="561.6" cy="371.1" rx="1.6" ry="0.9" fill="#fff"/>
<text x="484.2" y="382.7" font-family="Liberation Sans" font-weight="bold" font-style="italic" font-size="8.6" fill="#2020f0" stroke="#2020f0" stroke-width="0.25" textLength="53" lengthAdjust="spacingAndGlyphs">[0.40, 0.22, 0.71 %]</text>
<path d="M550.6 382.6 H562.6" stroke="#ccc" stroke-width="0.5"/>
<rect x="582.6" y="332.7" width="94.6" height="54.8" rx="4.5" fill="#fff" stroke="#a8a8a8" stroke-width="1.2"/>
<rect x="587.0" y="339.1" width="20" height="0.8" fill="#bbb"/><rect x="587.0" y="341.1" width="38" height="0.9" fill="#999"/><rect x="587.0" y="343.1" width="14" height="0.8" fill="#aaa"/>
<rect x="587.2" y="344.9" width="2.6" height="25" fill="url(#leg)"/>
<g fill="#bbb"><rect x="590.5" y="345.1" width="3" height="0.7"/><rect x="590.5" y="351.1" width="3" height="0.7"/><rect x="590.5" y="357.1" width="3" height="0.7"/><rect x="590.5" y="363.1" width="3" height="0.7"/><rect x="590.5" y="369.1" width="4" height="0.7"/></g>
<path d="M638.0 340.1 V348.1 L670.0 355.1 V362.1" stroke="#aaa" stroke-width="0.5" fill="none"/>
<path d="M604.0 358.1 L608.0 349.1 L609.0 347.6 C609.0 344.1 614.6 345.2 614.6 348.7 L619.2 349.5 L619.2 349.5 C619.2 346.0 624.8 347.1 624.8 350.6 L629.3 351.4 L629.3 351.4 C629.3 347.9 634.9 349.0 634.9 352.5 L639.5 353.4 L639.5 353.4 C639.5 349.9 645.1 350.9 645.1 354.4 L649.7 355.3 L649.7 355.3 C649.7 351.8 655.3 352.8 655.3 356.3 L659.8 357.2 L659.8 357.2 C659.8 353.7 665.4 354.7 665.4 358.2 L670.0 359.1 L674.0 363.1 L672.0 368.1 L668.0 376.1 Q661.8 377.8 655.6 374.9 Q649.4 376.1 643.2 373.2 Q637.0 374.4 630.8 371.5 Q624.6 372.7 618.4 369.8 Q612.2 371.0 606.0 368.1 L603.0 365.1 Z" fill="url(#tgC)"/>
<path d="M604.0 358.1 L608.0 349.1 L609.0 347.6 C609.0 344.1 614.6 345.2 614.6 348.7 L619.2 349.5 L619.2 349.5 C619.2 346.0 624.8 347.1 624.8 350.6 L629.3 351.4 L629.3 351.4 C629.3 347.9 634.9 349.0 634.9 352.5 L639.5 353.4 L639.5 353.4 C639.5 349.9 645.1 350.9 645.1 354.4 L649.7 355.3 L649.7 355.3 C649.7 351.8 655.3 352.8 655.3 356.3 L659.8 357.2 L659.8 357.2 C659.8 353.7 665.4 354.7 665.4 358.2 L670.0 359.1 L674.0 363.1 L672.0 368.1 L668.0 376.1 Q661.8 377.8 655.6 374.9 Q649.4 376.1 643.2 373.2 Q637.0 374.4 630.8 371.5 Q624.6 372.7 618.4 369.8 Q612.2 371.0 606.0 368.1 L603.0 365.1 Z" fill="url(#shade)" stroke="#0a2050" stroke-opacity="0.45" stroke-width="0.6"/>
<path d="M604.0 361.1 L666.0 373.1 L672.0 366.1" stroke="#0a3060" stroke-opacity="0.25" stroke-width="0.8" fill="none"/>
<ellipse cx="619.0" cy="353.1" rx="1.6" ry="0.9" fill="#fff"/>
<ellipse cx="630.0" cy="356.1" rx="1.6" ry="0.9" fill="#fff"/>
<ellipse cx="641.0" cy="358.6" rx="1.6" ry="0.9" fill="#fff"/>
<ellipse cx="652.0" cy="361.1" rx="1.6" ry="0.9" fill="#fff"/>
<ellipse cx="663.0" cy="363.6" rx="1.6" ry="0.9" fill="#fff"/>
<ellipse cx="665.0" cy="371.1" rx="1.6" ry="0.9" fill="#fff"/>
<text x="587.6" y="382.7" font-family="Liberation Sans" font-weight="bold" font-style="italic" font-size="8.6" fill="#2020f0" stroke="#2020f0" stroke-width="0.25" textLength="53" lengthAdjust="spacingAndGlyphs">[0.50, 0.44, 0.58 %]</text>
<path d="M654.0 382.6 H666.0" stroke="#ccc" stroke-width="0.5"/>
<rect x="375.6" y="395.0" width="94.6" height="54.8" rx="4.5" fill="#fff" stroke="#a8a8a8" stroke-width="1.2"/>
<rect x="380.0" y="401.4" width="20" height="0.8" fill="#bbb"/><rect x="380.0" y="403.4" width="38" height="0.9" fill="#999"/><rect x="380.0" y="405.4" width="14" height="0.8" fill="#aaa"/>
<rect x="380.2" y="407.2" width="2.6" height="25" fill="url(#leg)"/>
<g fill="#bbb"><rect x="383.5" y="407.4" width="3" height="0.7"/><rect x="383.5" y="413.4" width="3" height="0.7"/><rect x="383.5" y="419.4" width="3" height="0.7"/><rect x="383.5" y="425.4" width="3" height="0.7"/><rect x="383.5" y="431.4" width="4" height="0.7"/></g>
<path d="M431.0 402.4 V410.4 L463.0 417.4 V424.4" stroke="#aaa" stroke-width="0.5" fill="none"/>
<path d="M397.0 420.4 L401.0 411.4 L402.0 409.9 C402.0 406.4 407.6 407.5 407.6 411.0 L412.2 411.8 L412.2 411.8 C412.2 408.3 417.8 409.4 417.8 412.9 L422.3 413.7 L422.3 413.7 C422.3 410.2 427.9 411.3 427.9 414.8 L432.5 415.6 L432.5 415.6 C432.5 412.1 438.1 413.2 438.1 416.7 L442.7 417.6 L442.7 417.6 C442.7 414.1 448.3 415.1 448.3 418.6 L452.8 419.5 L452.8 419.5 C452.8 416.0 458.4 417.0 458.4 420.5 L463.0 421.4 L467.0 425.4 L465.0 430.4 L461.0 438.4 Q454.8 440.0 448.6 437.2 Q442.4 438.3 436.2 435.5 Q430.0 436.6 423.8 433.8 Q417.6 434.9 411.4 432.1 Q405.2 433.2 399.0 430.4 L396.0 427.4 Z" fill="url(#tgD)"/>
<path d="M397.0 420.4 L401.0 411.4 L402.0 409.9 C402.0 406.4 407.6 407.5 407.6 411.0 L412.2 411.8 L412.2 411.8 C412.2 408.3 417.8 409.4 417.8 412.9 L422.3 413.7 L422.3 413.7 C422.3 410.2 427.9 411.3 427.9 414.8 L432.5 415.6 L432.5 415.6 C432.5 412.1 438.1 413.2 438.1 416.7 L442.7 417.6 L442.7 417.6 C442.7 414.1 448.3 415.1 448.3 418.6 L452.8 419.5 L452.8 419.5 C452.8 416.0 458.4 417.0 458.4 420.5 L463.0 421.4 L467.0 425.4 L465.0 430.4 L461.0 438.4 Q454.8 440.0 448.6 437.2 Q442.4 438.3 436.2 435.5 Q430.0 436.6 423.8 433.8 Q417.6 434.9 411.4 432.1 Q405.2 433.2 399.0 430.4 L396.0 427.4 Z" fill="url(#shade)" stroke="#0a2050" stroke-opacity="0.45" stroke-width="0.6"/>
<path d="M397.0 423.4 L459.0 435.4 L465.0 428.4" stroke="#0a3060" stroke-opacity="0.25" stroke-width="0.8" fill="none"/>
<ellipse cx="412.0" cy="415.4" rx="1.6" ry="0.9" fill="#fff"/>
<ellipse cx="423.0" cy="418.4" rx="1.6" ry="0.9" fill="#fff"/>
<ellipse cx="434.0" cy="420.9" rx="1.6" ry="0.9" fill="#fff"/>
<ellipse cx="445.0" cy="423.4" rx="1.6" ry="0.9" fill="#fff"/>
<ellipse cx="456.0" cy="425.9" rx="1.6" ry="0.9" fill="#fff"/>
<ellipse cx="458.0" cy="433.4" rx="1.6" ry="0.9" fill="#fff"/>
<text x="380.6" y="445.0" font-family="Liberation Sans" font-weight="bold" font-style="italic" font-size="8.6" fill="#2020f0" stroke="#2020f0" stroke-width="0.25" textLength="53" lengthAdjust="spacingAndGlyphs">[0.38, 0.30, 0.70 %]</text>
<path d="M447.0 444.9 H459.0" stroke="#ccc" stroke-width="0.5"/>
<rect x="479.2" y="395.0" width="94.6" height="54.8" rx="4.5" fill="#fff" stroke="#a8a8a8" stroke-width="1.2"/>
<rect x="483.6" y="401.4" width="20" height="0.8" fill="#bbb"/><rect x="483.6" y="403.4" width="38" height="0.9" fill="#999"/><rect x="483.6" y="405.4" width="14" height="0.8" fill="#aaa"/>
<rect x="483.8" y="407.2" width="2.6" height="25" fill="url(#leg)"/>
<g fill="#bbb"><rect x="487.1" y="407.4" width="3" height="0.7"/><rect x="487.1" y="413.4" width="3" height="0.7"/><rect x="487.1" y="419.4" width="3" height="0.7"/><rect x="487.1" y="425.4" width="3" height="0.7"/><rect x="487.1" y="431.4" width="4" height="0.7"/></g>
<path d="M534.6 402.4 V410.4 L566.6 417.4 V424.4" stroke="#aaa" stroke-width="0.5" fill="none"/>
<path d="M500.6 420.4 L504.6 411.4 L505.6 409.9 C505.6 406.4 511.2 407.5 511.2 411.0 L515.8 411.8 L515.8 411.8 C515.8 408.3 521.4 409.4 521.4 412.9 L525.9 413.7 L525.9 413.7 C525.9 410.2 531.5 411.3 531.5 414.8 L536.1 415.6 L536.1 415.6 C536.1 412.1 541.7 413.2 541.7 416.7 L546.3 417.6 L546.3 417.6 C546.3 414.1 551.9 415.1 551.9 418.6 L556.4 419.5 L556.4 419.5 C556.4 416.0 562.0 417.0 562.0 420.5 L566.6 421.4 L570.6 425.4 L568.6 430.4 L564.6 438.4 Q558.4 440.0 552.2 437.2 Q546.0 438.3 539.8 435.5 Q533.6 436.6 527.4 433.8 Q521.2 434.9 515.0 432.1 Q508.8 433.2 502.6 430.4 L499.6 427.4 Z" fill="url(#tgB)"/>
<path d="M500.6 420.4 L504.6 411.4 L505.6 409.9 C505.6 406.4 511.2 407.5 511.2 411.0 L515.8 411.8 L515.8 411.8 C515.8 408.3 521.4 409.4 521.4 412.9 L525.9 413.7 L525.9 413.7 C525.9 410.2 531.5 411.3 531.5 414.8 L536.1 415.6 L536.1 415.6 C536.1 412.1 541.7 413.2 541.7 416.7 L546.3 417.6 L546.3 417.6 C546.3 414.1 551.9 415.1 551.9 418.6 L556.4 419.5 L556.4 419.5 C556.4 416.0 562.0 417.0 562.0 420.5 L566.6 421.4 L570.6 425.4 L568.6 430.4 L564.6 438.4 Q558.4 440.0 552.2 437.2 Q546.0 438.3 539.8 435.5 Q533.6 436.6 527.4 433.8 Q521.2 434.9 515.0 432.1 Q508.8 433.2 502.6 430.4 L499.6 427.4 Z" fill="url(#shade)" stroke="#0a2050" stroke-opacity="0.45" stroke-width="0.6"/>
<path d="M500.6 423.4 L562.6 435.4 L568.6 428.4" stroke="#0a3060" stroke-opacity="0.25" stroke-width="0.8" fill="none"/>
<ellipse cx="515.6" cy="415.4" rx="1.6" ry="0.9" fill="#fff"/>
<ellipse cx="526.6" cy="418.4" rx="1.6" ry="0.9" fill="#fff"/>
<ellipse cx="537.6" cy="420.9" rx="1.6" ry="0.9" fill="#fff"/>
<ellipse cx="548.6" cy="423.4" rx="1.6" ry="0.9" fill="#fff"/>
<ellipse cx="559.6" cy="425.9" rx="1.6" ry="0.9" fill="#fff"/>
<ellipse cx="561.6" cy="433.4" rx="1.6" ry="0.9" fill="#fff"/>
<text x="484.2" y="445.0" font-family="Liberation Sans" font-weight="bold" font-style="italic" font-size="8.6" fill="#2020f0" stroke="#2020f0" stroke-width="0.25" textLength="53" lengthAdjust="spacingAndGlyphs">[0.40, 0.20, 0.70 %]</text>
<path d="M550.6 444.9 H562.6" stroke="#ccc" stroke-width="0.5"/>
<rect x="582.6" y="395.0" width="94.6" height="54.8" rx="4.5" fill="#fff" stroke="#a8a8a8" stroke-width="1.2"/>
<rect x="587.0" y="401.4" width="20" height="0.8" fill="#bbb"/><rect x="587.0" y="403.4" width="38" height="0.9" fill="#999"/><rect x="587.0" y="405.4" width="14" height="0.8" fill="#aaa"/>
<rect x="587.2" y="407.2" width="2.6" height="25" fill="url(#leg)"/>
<g fill="#bbb"><rect x="590.5" y="407.4" width="3" height="0.7"/><rect x="590.5" y="413.4" width="3" height="0.7"/><rect x="590.5" y="419.4" width="3" height="0.7"/><rect x="590.5" y="425.4" width="3" height="0.7"/><rect x="590.5" y="431.4" width="4" height="0.7"/></g>
<path d="M638.0 402.4 V410.4 L670.0 417.4 V424.4" stroke="#aaa" stroke-width="0.5" fill="none"/>
<path d="M604.0 420.4 L608.0 411.4 L609.0 409.9 C609.0 406.4 614.6 407.5 614.6 411.0 L619.2 411.8 L619.2 411.8 C619.2 408.3 624.8 409.4 624.8 412.9 L629.3 413.7 L629.3 413.7 C629.3 410.2 634.9 411.3 634.9 414.8 L639.5 415.6 L639.5 415.6 C639.5 412.1 645.1 413.2 645.1 416.7 L649.7 417.6 L649.7 417.6 C649.7 414.1 655.3 415.1 655.3 418.6 L659.8 419.5 L659.8 419.5 C659.8 416.0 665.4 417.0 665.4 420.5 L670.0 421.4 L674.0 425.4 L672.0 430.4 L668.0 438.4 Q661.8 440.0 655.6 437.2 Q649.4 438.3 643.2 435.5 Q637.0 436.6 630.8 433.8 Q624.6 434.9 618.4 432.1 Q612.2 433.2 606.0 430.4 L603.0 427.4 Z" fill="url(#tgE)"/>
<path d="M604.0 420.4 L608.0 411.4 L609.0 409.9 C609.0 406.4 614.6 407.5 614.6 411.0 L619.2 411.8 L619.2 411.8 C619.2 408.3 624.8 409.4 624.8 412.9 L629.3 413.7 L629.3 413.7 C629.3 410.2 634.9 411.3 634.9 414.8 L639.5 415.6 L639.5 415.6 C639.5 412.1 645.1 413.2 645.1 416.7 L649.7 417.6 L649.7 417.6 C649.7 414.1 655.3 415.1 655.3 418.6 L659.8 419.5 L659.8 419.5 C659.8 416.0 665.4 417.0 665.4 420.5 L670.0 421.4 L674.0 425.4 L672.0 430.4 L668.0 438.4 Q661.8 440.0 655.6 437.2 Q649.4 438.3 643.2 435.5 Q637.0 436.6 630.8 433.8 Q624.6 434.9 618.4 432.1 Q612.2 433.2 606.0 430.4 L603.0 427.4 Z" fill="url(#shade)" stroke="#0a2050" stroke-opacity="0.45" stroke-width="0.6"/>
<path d="M604.0 423.4 L666.0 435.4 L672.0 428.4" stroke="#0a3060" stroke-opacity="0.25" stroke-width="0.8" fill="none"/>
<ellipse cx="619.0" cy="415.4" rx="1.6" ry="0.9" fill="#fff"/>
<ellipse cx="630.0" cy="418.4" rx="1.6" ry="0.9" fill="#fff"/>
<ellipse cx="641.0" cy="420.9" rx="1.6" ry="0.9" fill="#fff"/>
<ellipse cx="652.0" cy="423.4" rx="1.6" ry="0.9" fill="#fff"/>
<ellipse cx="663.0" cy="425.9" rx="1.6" ry="0.9" fill="#fff"/>
<ellipse cx="665.0" cy="433.4" rx="1.6" ry="0.9" fill="#fff"/>
<text x="587.6" y="445.0" font-family="Liberation Sans" font-weight="bold" font-style="italic" font-size="8.6" fill="#2020f0" stroke="#2020f0" stroke-width="0.25" textLength="53" lengthAdjust="spacingAndGlyphs">[0.48, 0.42, 0.66 %]</text>
<path d="M654.0 444.9 H666.0" stroke="#ccc" stroke-width="0.5"/>
<path d="M-4.5 0 L0 -3.3 V-1.5 H5 V1.5 H0 V3.3 Z" fill="#ee1010" stroke="#a00" stroke-width="0.3" transform="translate(467.7 307.6) rotate(10)"/>
<path d="M-4.5 0 L0 -3.3 V-1.5 H5 V1.5 H0 V3.3 Z" fill="#ee1010" stroke="#a00" stroke-width="0.3" transform="translate(496.7 293) rotate(200)"/>
<path d="M-4.5 0 L0 -3.3 V-1.5 H5 V1.5 H0 V3.3 Z" fill="#ee1010" stroke="#a00" stroke-width="0.3" transform="translate(609.1 307.7) rotate(90)"/>
<path d="M-4.5 0 L0 -3.3 V-1.5 H5 V1.5 H0 V3.3 Z" fill="#ee1010" stroke="#a00" stroke-width="0.3" transform="translate(621 309.6) rotate(90)"/>
<path d="M-4.5 0 L0 -3.3 V-1.5 H5 V1.5 H0 V3.3 Z" fill="#ee1010" stroke="#a00" stroke-width="0.3" transform="translate(632.4 312) rotate(90)"/>
<path d="M-4.5 0 L0 -3.3 V-1.5 H5 V1.5 H0 V3.3 Z" fill="#ee1010" stroke="#a00" stroke-width="0.3" transform="translate(643.8 313.5) rotate(90)"/>
<path d="M-4.5 0 L0 -3.3 V-1.5 H5 V1.5 H0 V3.3 Z" fill="#ee1010" stroke="#a00" stroke-width="0.3" transform="translate(654.9 318.2) rotate(90)"/>
<path d="M-4.5 0 L0 -3.3 V-1.5 H5 V1.5 H0 V3.3 Z" fill="#ee1010" stroke="#a00" stroke-width="0.3" transform="translate(466.2 364.5) rotate(0)"/>
<path d="M-4.5 0 L0 -3.3 V-1.5 H5 V1.5 H0 V3.3 Z" fill="#ee1010" stroke="#a00" stroke-width="0.3" transform="translate(463.3 372.1) rotate(0)"/>
<path d="M-4.5 0 L0 -3.3 V-1.5 H5 V1.5 H0 V3.3 Z" fill="#ee1010" stroke="#a00" stroke-width="0.3" transform="translate(500.5 351.2) rotate(200)"/>
<path d="M-4.5 0 L0 -3.3 V-1.5 H5 V1.5 H0 V3.3 Z" fill="#ee1010" stroke="#a00" stroke-width="0.3" transform="translate(497.6 359.6) rotate(180)"/>
<path d="M-4.5 0 L0 -3.3 V-1.5 H5 V1.5 H0 V3.3 Z" fill="#ee1010" stroke="#a00" stroke-width="0.3" transform="translate(612 371) rotate(90)"/>
<path d="M-4.5 0 L0 -3.3 V-1.5 H5 V1.5 H0 V3.3 Z" fill="#ee1010" stroke="#a00" stroke-width="0.3" transform="translate(632 374.8) rotate(90)"/>
<path d="M-4.5 0 L0 -3.3 V-1.5 H5 V1.5 H0 V3.3 Z" fill="#ee1010" stroke="#a00" stroke-width="0.3" transform="translate(652 378.3) rotate(90)"/>
<path d="M-4.5 0 L0 -3.3 V-1.5 H5 V1.5 H0 V3.3 Z" fill="#ee1010" stroke="#a00" stroke-width="0.3" transform="translate(465.2 417.1) rotate(-45)"/>
<path d="M-4.5 0 L0 -3.3 V-1.5 H5 V1.5 H0 V3.3 Z" fill="#ee1010" stroke="#a00" stroke-width="0.3" transform="translate(457.2 440.4) rotate(45)"/>
<path d="M-4.5 0 L0 -3.3 V-1.5 H5 V1.5 H0 V3.3 Z" fill="#ee1010" stroke="#a00" stroke-width="0.3" transform="translate(507.1 404.1) rotate(-90)"/>
<path d="M-4.5 0 L0 -3.3 V-1.5 H5 V1.5 H0 V3.3 Z" fill="#ee1010" stroke="#a00" stroke-width="0.3" transform="translate(497.6 428) rotate(135)"/>
<path d="M-4.5 0 L0 -3.3 V-1.5 H5 V1.5 H0 V3.3 Z" fill="#ee1010" stroke="#a00" stroke-width="0.3" transform="translate(602.5 415.5) rotate(225)"/>
<path d="M-4.5 0 L0 -3.3 V-1.5 H5 V1.5 H0 V3.3 Z" fill="#ee1010" stroke="#a00" stroke-width="0.3" transform="translate(631 413) rotate(-90)"/>
<path d="M-4.5 0 L0 -3.3 V-1.5 H5 V1.5 H0 V3.3 Z" fill="#ee1010" stroke="#a00" stroke-width="0.3" transform="translate(654.8 418) rotate(-90)"/>
</svg>
<div class="bt" style="left:0;width:317px;padding-left:6.5px;text-align:center;top:194.5px;font-size:17.6px;line-height:24.3px">Gate Scenarios decoupling flow<br><span style="letter-spacing:0.12px">direction from transverse direction</span></div>
</div>

<!-- Production -->
<div class="box" style="left:411.5px;top:544.2px;width:231.5px;height:67.8px;background:#f2f2f2"></div>
<div class="bt" style="left:411.5px;width:231.5px;text-align:center;top:551.5px;font-size:20.5px;line-height:27.3px">Production Intent<br>Molding Condition</div>

<!-- Dialog -->
<div class="box" style="left:811px;top:38.1px;width:319px;height:154px;border-width:2px;border-color:#000;background:#f0f0f0;overflow:hidden">
<svg class="a" style="left:0;top:0" width="315" height="150" viewBox="813 40.1 315 150" font-family="Liberation Sans" font-size="6.6">
<rect x="813" y="40" width="315" height="150" fill="#f0f0f0"/>
<path d="M1127 40.6 H813.6 V189.4 H1127" fill="none" stroke="#2b8de0" stroke-width="1.2"/><rect x="1127" y="41" width="1" height="148" fill="#fff"/>
<rect x="814" y="41.5" width="312.5" height="19" fill="#fff"/>
<rect x="1104" y="41.5" width="22.5" height="19" fill="#fdf4f4"/>
<text x="818.9" y="53.7" font-size="8.5" fill="#3a3a3a" textLength="89" lengthAdjust="spacingAndGlyphs">Select Analysis Sequence</text>
<path d="M1113.3 47.3 L1120.1 54.1 M1120.1 47.3 L1113.3 54.1" stroke="#222" stroke-width="0.8"/>
<rect x="817.8" y="66.6" width="240" height="90.5" fill="#fff" stroke="#a0a4aa" stroke-width="0.7"/>
<rect x="818.3" y="109.1" width="239" height="8" fill="#0a78d7"/>
<text x="819" y="73.00" fill="#000">Fill</text>
<text x="819" y="81.46" fill="#000">Fill + Pack</text>
<text x="819" y="89.92" fill="#000">Fast Fill</text>
<text x="819" y="98.38" fill="#000">Fill + Pack + Warp</text>
<text x="819" y="106.84" fill="#000">Cool</text>
<text x="819" y="115.30" fill="#fff">Cool + Fill + Pack + Warp</text>
<text x="819" y="123.76" fill="#000">Molding Window</text>
<text x="819" y="132.22" fill="#000">Gate Location</text>
<text x="819" y="140.68" fill="#000">Cool (FEM)</text>
<text x="819" y="149.14" fill="#000">Cool (FEM) + Fill + Pack + Warp</text>
<rect x="1062.2" y="67" width="62.6" height="13.2" fill="#e1e1e1" stroke="#2b84d8" stroke-width="1"/>
<rect x="1062.2" y="84.8" width="62.6" height="13.4" fill="#e1e1e1" stroke="#bcbcbc" stroke-width="0.7"/>
<rect x="1062.2" y="143.4" width="62.6" height="13.6" fill="#e1e1e1" stroke="#bcbcbc" stroke-width="0.7"/>
<text x="1093.5" y="75.8" text-anchor="middle" fill="#000">OK</text>
<text x="1093.5" y="93.8" text-anchor="middle" fill="#000">Cancel</text>
<text x="1093.5" y="152.9" text-anchor="middle" fill="#000">More...</text>
<text x="819.6" y="169.8" fill="#000">Cool, Fill+pack, Warp</text>
</svg></div>

<!-- Determine -->
<div class="box" style="left:867px;top:215.3px;width:208px;height:200.5px;overflow:hidden">
<svg class="a" style="left:0;top:0" width="204" height="196.5" viewBox="869 217.3 204 196.5">
<defs>
<linearGradient id="cg" gradientUnits="userSpaceOnUse" x1="1003" y1="266" x2="945" y2="398">
<stop offset="0" stop-color="#0848e8"/><stop offset="0.1" stop-color="#1070f0"/><stop offset="0.2" stop-color="#10b8f0"/><stop offset="0.3" stop-color="#10e0e0"/><stop offset="0.38" stop-color="#10e0a0"/><stop offset="0.46" stop-color="#10e010"/><stop offset="0.56" stop-color="#50e000"/><stop offset="0.66" stop-color="#c8e000"/><stop offset="0.74" stop-color="#f0c000"/><stop offset="0.84" stop-color="#f86000"/><stop offset="1" stop-color="#f02010"/>
</linearGradient>
<linearGradient id="cgs" gradientUnits="userSpaceOnUse" x1="930" y1="330" x2="1030" y2="350">
<stop offset="0" stop-color="#fff" stop-opacity="0.18"/><stop offset="0.5" stop-color="#fff" stop-opacity="0"/><stop offset="1" stop-color="#000" stop-opacity="0.2"/>
</linearGradient>
</defs>
<path d="M965.4 269.5 L972 266 L982.4 264.6 L1000 268 L1023.8 276.8 L1034.8 285 L1034 293 L1024 297 L1023.8 313.3 L1015 330 L1004.4 352.3 L998 370 L992.2 386.4 L986 393 L978 397 L965.4 401 L940 395 L907 386.4 L903.3 378 L903.3 369.3 L910 362 L916.7 352.3 L922 340 L928.9 330.3 L934 320 L941 310.9 L946 298 L950.8 289 L958 278 Z" fill="url(#cg)"/>
<path d="M965.4 269.5 L972 266 L982.4 264.6 L1000 268 L1023.8 276.8 L1034.8 285 L1034 293 L1024 297 L1023.8 313.3 L1015 330 L1004.4 352.3 L998 370 L992.2 386.4 L986 393 L978 397 L965.4 401 L940 395 L907 386.4 L903.3 378 L903.3 369.3 L910 362 L916.7 352.3 L922 340 L928.9 330.3 L934 320 L941 310.9 L946 298 L950.8 289 L958 278 Z" fill="url(#cgs)"/>
<!-- bands/edges -->
<g fill="none" stroke="#000" stroke-opacity="0.18" stroke-width="1">
<path d="M950 292 L1022 300 M941 312 L1016 326 M930 332 L1006 348 M918 353 L999 368 M907 372 L990 388"/>
<path d="M1010 278 L1000 320 L985 360 L975 392"/>
</g>
<!-- gray bottom -->
<path d="M907 384 L915 382 L940 388 L968 394 L972 399 L965.4 401 L940 396 L908 388 Z" fill="#b8b8b8"/>
<path d="M908 385 L966 397" stroke="#888" stroke-width="0.8"/>
<!-- holes -->
<g fill="#fff">
<ellipse cx="994.6" cy="287.7" rx="5.5" ry="3" transform="rotate(15 994.6 287.7)"/>
<ellipse cx="984.9" cy="308.4" rx="5.5" ry="3" transform="rotate(15 984.9 308.4)"/>
<ellipse cx="973.9" cy="326.7" rx="5.3" ry="3" transform="rotate(15 973.9 326.7)"/>
<ellipse cx="964.2" cy="347.4" rx="5.3" ry="3.2" transform="rotate(15 964.2 347.4)"/>
<ellipse cx="930.8" cy="371.7" rx="5.3" ry="3.4" transform="rotate(15 930.8 371.7)"/>
<ellipse cx="963" cy="380.3" rx="5.3" ry="3.4" transform="rotate(15 963 380.3)"/>
</g>
<!-- side bumps -->
<g fill="#f08010"><circle cx="906" cy="371" r="3"/><circle cx="987" cy="390" r="3"/></g>
<circle cx="910" cy="343" r="0"/>
<!-- runners -->
<g stroke="#0a18a8" stroke-width="2" fill="none" stroke-linecap="round">
<path d="M976 257 L977.6 308.4"/>
<path d="M992.2 257.3 L954.4 323 L952.7 352.3"/>
<path d="M1005.6 257.3 L1004.4 269.5"/>
</g>
<ellipse cx="952.3" cy="356" rx="4.2" ry="3" fill="#d8c000" stroke="#a08000" stroke-width="0.6"/>
<!-- text overlay band -->
<rect x="869" y="219" width="204" height="38.7" fill="#fff" fill-opacity="0.88"/>
<g stroke="#c8c8f0" stroke-width="1.5" fill="none">
<path d="M976 246.6 L976 257.5"/>
<path d="M1007 229.8 L991.9 258 M1007 229.8 L1005 258"/>
</g>
</svg></div>
<div class="a" style="left:845px;top:219px;width:22px;height:38.7px;background:rgba(255,255,255,0.88)"></div>
<div class="a" style="left:1075px;top:219px;width:30px;height:38.7px;background:rgba(255,255,255,0.88)"></div>
<div class="a" style="left:867px;top:219px;width:2px;height:38.7px;background:#dedede"></div>
<div class="a" style="left:1073px;top:219px;width:2px;height:38.7px;background:#dedede"></div>
<div class="bt" style="left:847px;top:228.5px;font-size:20px;letter-spacing:0.23px">Determine Gating Strategy</div>

<div class="a" style="left:1096px;top:0;color:#9dc3e6;font-weight:bold;white-space:nowrap;line-height:1">
<div class="a" style="left:0;top:281.5px;font-size:15px">Decision Criteria</div>
<div class="a" style="left:20px;top:304.2px;font-size:12.9px;font-style:italic">Dimensions</div>
<div class="a" style="left:0.5px;top:309.9px;width:3.5px;height:1px;background:#9dc3e6"></div>
<div class="a" style="left:20px;top:323.2px;font-size:12.9px;font-style:italic">Flatness</div>
<div class="a" style="left:0.5px;top:328.9px;width:3.5px;height:1px;background:#9dc3e6"></div>
<div class="a" style="left:20px;top:341.2px;font-size:12.9px;font-style:italic">Isotropic shrinkage</div>
<div class="a" style="left:0.5px;top:346.9px;width:3.5px;height:1px;background:#9dc3e6"></div>
<div class="a" style="left:20px;top:359.2px;font-size:12.9px;font-style:italic">Circular Profile</div>
<div class="a" style="left:0.5px;top:364.9px;width:3.5px;height:1px;background:#9dc3e6"></div>
<div class="a" style="left:20px;top:377.8px;font-size:12.9px;font-style:italic">True Position, etc</div>
<div class="a" style="left:0.5px;top:383.5px;width:3.5px;height:1px;background:#9dc3e6"></div>
</div>
<!-- Shrink -->
<div class="box" style="left:791.4px;top:438.7px;width:358.9px;height:181.7px;overflow:hidden">
<svg class="a" style="left:0;top:0" width="354.9" height="177.7" viewBox="793.4 440.7 354.9 177.7">
<defs>
<radialGradient id="fm"><stop offset="0" stop-color="#fff"/><stop offset="0.86" stop-color="#fff"/><stop offset="1" stop-color="#000"/></radialGradient>
<mask id="m1" maskContentUnits="objectBoundingBox"><rect width="1" height="1" fill="url(#fm)"/></mask>
<linearGradient id="tlg" x1="0" y1="0" x2="0.4" y2="1"><stop offset="0" stop-color="#30e0e0"/><stop offset="0.6" stop-color="#20c8d0"/><stop offset="1" stop-color="#10a060"/></linearGradient>
<linearGradient id="lbg" x1="0" y1="0" x2="1" y2="0"><stop offset="0" stop-color="#e85010"/><stop offset="0.55" stop-color="#f07010"/><stop offset="0.75" stop-color="#f0a018"/><stop offset="1" stop-color="#f0f020"/></linearGradient>
<linearGradient id="tgg" x1="0" y1="0" x2="1" y2="0"><stop offset="0" stop-color="#40d820"/><stop offset="0.6" stop-color="#a0e020"/><stop offset="1" stop-color="#f0f020"/></linearGradient>
<linearGradient id="trg" x1="0" y1="0" x2="1" y2="0.3"><stop offset="0" stop-color="#106040"/><stop offset="0.3" stop-color="#20c060"/><stop offset="1" stop-color="#40e040"/></linearGradient>
<linearGradient id="tmg" x1="0" y1="0" x2="1" y2="1"><stop offset="0" stop-color="#20c0e8"/><stop offset="1" stop-color="#1080e0"/></linearGradient>
<linearGradient id="bmg" x1="0" y1="0" x2="0.6" y2="1"><stop offset="0" stop-color="#109030"/><stop offset="0.35" stop-color="#20d0c0"/><stop offset="1" stop-color="#30e0e0"/></linearGradient>
<radialGradient id="rbg"><stop offset="0" stop-color="#1840f0"/><stop offset="1" stop-color="#1838e8"/></radialGradient>
</defs>
<!-- blue part -->
<path d="M913 494.5 Q910 494 910 498 V565 Q910 569.5 914 569.5 H922.8 V575.8 H930.2 V569.5 H1000 Q1005 573 1012 569.5 Q1018 573 1026 569.5 H1062 Q1066.5 569.5 1066.5 565 V501 Q1066.5 495.5 1061 495.5 H1050 Q1045 493 1040 495.5 H996 Q992 492.5 988 495 H955 Q950 493 946 495 H930 Q925 493 920 494.5 Z" fill="#1010a4" stroke="#08086a" stroke-width="0.8"/>
<path d="M940 515 H1062 V550 H940 Z" fill="#1414b0" opacity="0.6"/>
<path d="M949 519.5 H1058 Q1063 519.5 1063 524 V539 Q1063 543.5 1058 543.5 H949 Q941 543.5 941 531.5 Q941 519.5 949 519.5 Z" stroke="#04042a" stroke-width="1.5" fill="none" opacity="0.85"/><path d="M952 521 l0 -2 M965 521 l0 -2 M985 521 l0 -2 M1005 521 l0 -2 M1025 521 l0 -2 M1045 521 l0 -2 M960 542 l0 2 M980 542 l0 2 M1000 542 l0 2 M1020 542 l0 2 M1040 542 l0 2" stroke="#04042a" stroke-width="1.2"/>
<path d="M918 512 H932 V560 H918 Z" fill="#1818b4" opacity="0.6"/><path d="M932.5 497 V568" stroke="#06064a" stroke-width="1" opacity="0.8"/><path d="M916 516 H932" stroke="#06064a" stroke-width="0.8" opacity="0.8"/>

<circle cx="951.4" cy="528.7" r="3.6" fill="#fff"/>
<circle cx="951" cy="536" r="1.8" fill="#fff"/>
<path d="M1053 554 A5 5 0 1 1 1054 562" stroke="#fff" stroke-width="1.6" fill="none"/>
<g fill="#fff" stroke="#0c0c70" stroke-width="0.5">
<circle cx="910.5" cy="497" r="2"/><circle cx="909.5" cy="531" r="2"/><circle cx="944" cy="494.5" r="2"/><circle cx="978" cy="494" r="1.8"/><circle cx="1059.5" cy="500" r="2"/><circle cx="1065" cy="531.4" r="2"/><circle cx="944" cy="568.3" r="2"/><circle cx="970" cy="569" r="1.8"/><circle cx="1000" cy="569" r="1.8"/><circle cx="1028" cy="569" r="1.8"/><circle cx="1062" cy="565" r="1.8"/><circle cx="910.5" cy="566" r="1.8"/>
</g>
<rect x="1068" y="500" width="4" height="62" fill="none" stroke="#ddd" stroke-width="0.6"/>
<!-- top-left blob -->
<defs>
<radialGradient id="fm2" cx="0.5" cy="0.5" r="0.5"><stop offset="0" stop-color="#fff"/><stop offset="0.88" stop-color="#fff"/><stop offset="1" stop-color="#000"/></radialGradient>
<mask id="mtl" maskUnits="userSpaceOnUse" x="800" y="440" width="100" height="80"><circle cx="857" cy="476" r="30" fill="url(#fm2)"/></mask>
<mask id="mor" maskUnits="userSpaceOnUse" x="790" y="495" width="80" height="90"><ellipse cx="824" cy="538.5" rx="30" ry="34" fill="url(#fm2)"/></mask>
<radialGradient id="gsph" cx="0.4" cy="0.35" r="0.6"><stop offset="0" stop-color="#e8e8e8"/><stop offset="1" stop-color="#909090"/></radialGradient>
</defs>
<circle cx="837.5" cy="466" r="11.5" fill="url(#gsph)"/>
<g mask="url(#mtl)">
<path d="M844 468 L852 458 L864 451 L880 448 L890 455 L890 495 L872 504 L860 510 L843 510 L843 490 Z" fill="#28e0d8"/>
<path d="M843 488 L860 490 L866 500 L860 510 L843 510 Z" fill="#10c070"/>
<path d="M872 448 L890 448 L890 478 L876 476 Z" fill="#28b8f0"/>
<path d="M866 452 Q876 462 872 474 Q866 486 868 496 Q866 504 860 510" stroke="#102020" stroke-width="2.2" fill="none"/>
<path d="M874 476 Q880 470 890 470" stroke="#102020" stroke-width="1.5" fill="none"/>
</g>
<circle cx="851.4" cy="476.9" r="13.6" fill="#30e8e0" stroke="#106060" stroke-width="0.9"/>
<circle cx="851.4" cy="476.9" r="10.6" fill="none" stroke="#106060" stroke-width="0.7"/>
<circle cx="851.4" cy="476.9" r="7.2" fill="#fff" stroke="#105858" stroke-width="0.8"/>
<!-- left orange blob -->
<g mask="url(#mor)">
<rect x="817" y="500" width="26" height="76" fill="#e86818"/>
<rect x="842" y="500" width="16" height="76" fill="#f0f020"/>
<rect x="836" y="500" width="7" height="76" fill="#d03010"/>
<path d="M834.5 500 V576 M841.5 500 V576" stroke="#200800" stroke-width="1.6"/>
<path d="M820 500 Q826 538 820 576" stroke="#802000" stroke-width="0.8" fill="none" opacity="0.7"/>
</g>
<circle cx="814.5" cy="538.3" r="14.5" fill="#f05a10" stroke="#601800" stroke-width="0.9"/>
<circle cx="814.5" cy="538.3" r="11.2" fill="none" stroke="#601800" stroke-width="0.7"/>
<circle cx="814.5" cy="538.3" r="7.4" fill="#fff" stroke="#602000" stroke-width="0.8"/>
<!-- top middle blob -->
<defs>
<linearGradient id="tmg2" x1="0" y1="0" x2="0" y2="1"><stop offset="0" stop-color="#30d8f0"/><stop offset="0.55" stop-color="#18b0e8"/><stop offset="1" stop-color="#1050b8"/></linearGradient>
<mask id="mtm" maskUnits="userSpaceOnUse" x="920" y="440" width="80" height="60"><circle cx="960" cy="460" r="29" fill="url(#fm2)"/></mask>
</defs>
<g mask="url(#mtm)">
<path d="M930 456 Q945 451 960 452 Q976 454 992 460 L992 500 L930 500 Z" fill="url(#tmg2)"/>
<path d="M930 461 Q942 458 950 466 Q960 476 972 470 Q982 465 992 468" stroke="#08283a" stroke-width="1.8" fill="none" opacity="0.75"/>
</g>
<circle cx="959.6" cy="465" r="10.5" fill="#30c8f0" stroke="#0a4870" stroke-width="0.8"/>
<circle cx="959.6" cy="465" r="8.2" fill="none" stroke="#0a4870" stroke-width="0.6"/>
<circle cx="959.6" cy="465" r="6" fill="#fff" stroke="#0a4870" stroke-width="0.7"/>
<!-- top green-yellow blob -->
<g mask="url(#m1)"><ellipse cx="1021.4" cy="475" rx="29" ry="35" fill="url(#tgg)"/></g>
<path d="M1006 462 C1006 440 1037 440 1037 462 C1037 474 1030 478 1030 484 A10 10 0 1 1 1012 484 C1012 478 1006 474 1006 462 Z" fill="#90e020" stroke="#203000" stroke-width="1.2"/>
<ellipse cx="1021.4" cy="461.9" rx="13.5" ry="15.5" fill="#fff" stroke="#101800" stroke-width="1.2"/>
<path d="M1009 466 Q1021 480 1034 466" stroke="#101800" stroke-width="2" fill="none"/>
<circle cx="1021.4" cy="494.6" r="9.5" fill="#b8e828" stroke="#304000" stroke-width="0.8"/>
<circle cx="1021.4" cy="494.6" r="6.5" fill="#fff" stroke="#304000" stroke-width="0.8"/>
<!-- top right blob -->
<defs>
<linearGradient id="trg2" x1="0" y1="0" x2="1" y2="0.35"><stop offset="0" stop-color="#052818"/><stop offset="0.25" stop-color="#18a870"/><stop offset="0.5" stop-color="#20e050"/><stop offset="1" stop-color="#30e030"/></linearGradient>
<mask id="mtr" maskUnits="userSpaceOnUse" x="1060" y="436" width="80" height="70"><circle cx="1094" cy="468" r="28" fill="url(#fm2)"/></mask>
</defs>
<path d="M1117 462 L1131 455 Q1135 465 1131 476 L1117 470 Z" fill="#e6e6e6" stroke="#cfcfcf" stroke-width="0.6"/>
<g mask="url(#mtr)">
<path d="M1066 450 L1080 443 L1100 446 L1112 452 L1120 470 L1122 492 L1100 496 L1080 490 L1066 470 Z" fill="url(#trg2)"/>
<path d="M1072 462 Q1080 478 1096 484 Q1108 488 1118 490" stroke="#041a10" stroke-width="2" fill="none" opacity="0.55"/>
</g>
<circle cx="1099" cy="465.5" r="14" fill="#28e040" stroke="#0a4a18" stroke-width="0.9"/>
<circle cx="1099" cy="465.5" r="10.8" fill="#40f070" stroke="#0a4a18" stroke-width="0.7"/>
<circle cx="1099" cy="465.5" r="7.6" fill="#fff" stroke="#0a4a18" stroke-width="0.7"/>
<!-- right blue blob -->
<g mask="url(#m1)"><rect x="1096" y="514" width="44" height="51" fill="#1a48f0"/></g>
<rect x="1136" y="525" width="8" height="30" fill="#f2f2f2"/>
<circle cx="1121.4" cy="540.4" r="14" fill="none" stroke="#0818a0" stroke-width="0.9"/>
<circle cx="1121.4" cy="540.4" r="10.5" fill="#1030e0" stroke="#0818a0" stroke-width="0.9"/>
<circle cx="1121.4" cy="540.4" r="7.5" fill="#fff"/>
<!-- bottom blob -->
<defs>
<linearGradient id="bmg2" x1="0" y1="0" x2="0" y2="1"><stop offset="0" stop-color="#18b030"/><stop offset="0.3" stop-color="#10a048"/><stop offset="0.45" stop-color="#28d8d0"/><stop offset="1" stop-color="#30e8e8"/></linearGradient>
<mask id="mbm" maskUnits="userSpaceOnUse" x="925" y="575" width="75" height="50"><ellipse cx="960" cy="600" rx="29" ry="24" fill="url(#fm2)"/></mask>
</defs>
<g mask="url(#mbm)">
<path d="M930 580 H992 V600 H930 Z" fill="url(#bmg2)"/>
<path d="M930 596 Q945 592 960 596 V625 H930 Z" fill="#30e0e8"/>
<path d="M960 592 Q975 590 992 596 V625 H960 Z" fill="#30e0e8"/>
<path d="M932 588 Q942 580 952 584 M930 595 Q944 592 950 588" stroke="#042a10" stroke-width="1.6" fill="none" opacity="0.7"/>
</g>
<circle cx="960.4" cy="601" r="13" fill="#30e6e6" stroke="#0a5858" stroke-width="0.9"/>
<circle cx="960.4" cy="601" r="10" fill="none" stroke="#0a5858" stroke-width="0.7"/>
<circle cx="960.4" cy="601" r="6.8" fill="#fff" stroke="#0a5858" stroke-width="0.7"/>
<!-- dashed arrows -->
<path d="M923.5 554.5 V516 H921 L925.8 510.5 L930.6 516 H928.1 V554.5 Z" fill="none" stroke="#e02020" stroke-width="0.8" stroke-dasharray="2,1.2"/>
<path d="M932 557.5 H996 V555 L1002 560 L996 565 V562.5 H932 Z" fill="none" stroke="#e02020" stroke-width="0.8" stroke-dasharray="2,1.2"/>
<!-- texts -->
<text x="914.8" y="507.7" font-family="Liberation Sans" font-weight="bold" font-style="italic" font-size="8.4" fill="#f2f000" stroke="#f2f000" stroke-width="0.2" textLength="95.7" lengthAdjust="spacingAndGlyphs">Shrink rate : 0.3% ( vs 0.4% )</text>
<text x="939.5" y="553.5" font-family="Liberation Sans" font-weight="bold" font-style="italic" font-size="8.4" fill="#f2f000" stroke="#f2f000" stroke-width="0.2" textLength="95.7" lengthAdjust="spacingAndGlyphs">Shrink rate : 0.4% (vs 0.6% )</text>
<!-- A circles -->
<g font-family="Liberation Sans" font-weight="bold" font-style="italic" font-size="8.5" text-anchor="middle">
<circle cx="895" cy="496.5" r="12.6" fill="#fff" stroke="#111" stroke-width="1.4"/><path d="M882.4 496.5 H907.6" stroke="#111" stroke-width="1.2"/><text x="895" y="506">A3</text>
<circle cx="895" cy="573.7" r="12.6" fill="#fff" stroke="#111" stroke-width="1.4"/><path d="M882.4 573.7 H907.6" stroke="#111" stroke-width="1.2"/><text x="895" y="583.2">A1</text>
<circle cx="1080" cy="571" r="12.6" fill="#fff" stroke="#111" stroke-width="1.4"/><path d="M1067.4 571 H1092.6" stroke="#111" stroke-width="1.2"/><text x="1080" y="580.5">A2</text>
</g>
<!-- red curves -->
<g stroke="#ee1111" stroke-width="1.3" fill="none">
<path d="M910.5 497 C902 480 893 468 884 470 C874 472 872 485 860 481 L855 479"/>
<path d="M909.5 531 C895 538 892 546 885 545 C877 544 882 532 870 530 C855 528 835 536 820 538.5"/>
<path d="M944 494.5 C944 485 938 482 942 478 C948 474 954 484 957 476 L959 468"/>
<path d="M951.4 528.7 C958 520 966 505 975 508 C980 510 980 518 985 517 C995 514 1005 503 1017 498"/>
<path d="M1059.5 500 C1060 486 1066 474 1072 478 C1080 484 1084 488 1088 481 L1096 469"/>
<path d="M1065 531.4 C1075 528 1079 526 1082 530 C1086 538 1082 542 1092 543 L1116 541"/>
<path d="M944 568.3 C952 572 956 576 952 582 C948 590 956 592 958 597"/>
</g>
<g fill="#ee1111">
<path d="M853 478 L859.5 476.5 L857.5 482.5 Z"/>
<path d="M816 538.8 L822 535.5 L822 542 Z"/>
<path d="M959.6 466 L956.5 471.5 L962 472 Z"/>
<path d="M1020 496 L1013.5 497 L1016.5 502.5 Z"/>
<path d="M1098 467 L1091.5 469 L1096 473.5 Z"/>
<path d="M1118.5 541 L1112.5 537.8 L1112.5 544.2 Z"/>
<path d="M959.5 599.5 L955 594.5 L961.5 593.5 Z"/>
</g>
</svg></div>
<div class="bt" style="left:770px;width:401px;text-align:center;top:624.5px;font-size:17.8px;line-height:24.2px">(1) Shrink Rate to best serve tool debug plan<br>(2) Windage Compensation</div>

<svg class="a" style="left:0;top:0" width="1244" height="682" viewBox="0 0 1244 682">
<g fill="none" stroke="#ff0000" stroke-width="3.6">
<path d="M123.5 59 V76"/>
<path d="M124.8 275 V306"/>
<path d="M125 484.7 V513"/>
<path d="M125 623.5 V639.7 H326 V20.9 H527 V36"/>
<path d="M527.2 221 V249"/>
<path d="M527.2 514.5 V534"/>
<path d="M527 612 V637.5 H727.6 V13.7 H971 V30"/>
<path d="M971 191 V206"/>
<path d="M971.1 413.8 V430"/>
</g>
<g fill="#ff0000">
<path d="M117.8 74.5 H129.2 L123.5 86 Z"/>
<path d="M119.1 304.3 H130.9 L125.3 316 Z"/>
<path d="M119 512 H131 L125 523.8 Z"/>
<path d="M521.3 35 H532.7 L527 46.5 Z"/>
<path d="M521.3 247.6 H533.1 L527.2 259.5 Z"/>
<path d="M521.3 532.7 H533.1 L527.2 544.2 Z"/>
<path d="M965.3 28 H976.7 L971 39.5 Z"/>
<path d="M965.3 204.5 H976.7 L971 216 Z"/>
<path d="M965.2 428.5 H977 L971.1 440.2 Z"/>
</g>
</svg>
</body></html>
